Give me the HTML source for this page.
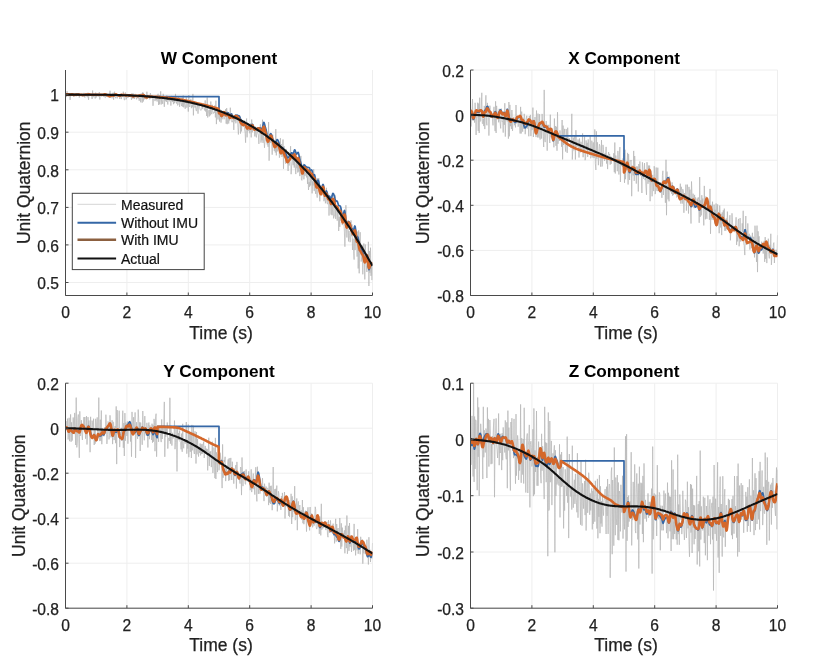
<!DOCTYPE html><html><head><meta charset="utf-8"><style>html,body{margin:0;padding:0;background:#fff;overflow:hidden}svg{display:block;filter:blur(0.35px)}</style></head><body>
<svg width="816" height="664" viewBox="0 0 816 664" font-family='"Liberation Sans", sans-serif'>
<rect width="816" height="664" fill="#fff"/>
<defs>
<clipPath id="cW"><rect x="65.5" y="70.0" width="307.0" height="225.5"/></clipPath>
<clipPath id="cX"><rect x="470.5" y="70.0" width="307.0" height="225.5"/></clipPath>
<clipPath id="cY"><rect x="65.5" y="383.2" width="307.0" height="225.00000000000006"/></clipPath>
<clipPath id="cZ"><rect x="470.5" y="383.2" width="307.0" height="225.00000000000006"/></clipPath>
</defs>
<path d="M126.9 70.0V295.5M188.3 70.0V295.5M249.7 70.0V295.5M311.1 70.0V295.5M372.5 70.0V295.5M65.5 282.5H372.5M65.5 244.9H372.5M65.5 207.4H372.5M65.5 169.8H372.5M65.5 132.2H372.5M65.5 94.6H372.5" stroke="#eeeeee" stroke-width="1" fill="none"/>
<g clip-path="url(#cW)">
<path d="M65.5 96.1L66.0 94.0L66.5 97.1L67.0 91.2L67.5 95.8L68.1 96.4L68.6 94.4L69.1 95.7L69.6 94.0L70.1 99.9L70.6 94.1L71.1 95.4L71.6 95.8L72.2 94.4L72.7 95.8L73.2 95.7L73.7 96.7L74.2 95.1L74.7 95.2L75.2 95.3L75.7 94.9L76.2 96.3L76.8 94.1L77.3 94.7L77.8 95.4L78.3 94.7L78.8 94.1L79.3 97.6L79.8 94.9L80.3 96.2L80.8 95.2L81.4 95.0L81.9 93.8L82.4 95.4L82.9 97.0L83.4 95.8L83.9 92.9L84.4 96.0L84.9 97.6L85.5 94.0L86.0 95.2L86.5 95.0L87.0 97.2L87.5 96.9L88.0 92.7L88.5 99.8L89.0 95.0L89.5 94.3L90.1 94.8L90.6 95.2L91.1 95.0L91.6 94.5L92.1 99.0L92.6 90.5L93.1 97.3L93.6 96.6L94.2 94.7L94.7 95.1L95.2 98.5L95.7 92.6L96.2 97.5L96.7 95.8L97.2 95.8L97.7 96.2L98.2 96.1L98.8 96.6L99.3 92.1L99.8 99.5L100.3 94.1L100.8 94.6L101.3 95.2L101.8 96.6L102.3 95.6L102.9 94.5L103.4 95.5L103.9 97.0L104.4 94.1L104.9 97.3L105.4 97.6L105.9 93.6L106.4 96.9L106.9 95.3L107.5 96.1L108.0 97.2L108.5 94.2L109.0 95.6L109.5 97.7L110.0 90.7L110.5 97.6L111.0 95.4L111.5 95.3L112.1 98.3L112.6 94.7L113.1 92.7L113.6 99.7L114.1 94.3L114.6 91.7L115.1 96.3L115.6 98.2L116.2 96.1L116.7 94.5L117.2 98.4L117.7 94.4L118.2 95.3L118.7 96.8L119.2 94.3L119.7 99.0L120.2 96.6L120.8 95.3L121.3 99.1L121.8 96.6L122.3 95.7L122.8 97.0L123.3 91.7L123.8 95.9L124.3 100.0L124.9 99.9L125.4 92.5L125.9 94.2L126.4 99.3L126.9 93.9L127.4 95.9L127.9 98.0L128.4 95.2L128.9 96.9L129.5 94.8L130.0 96.9L130.5 94.9L131.0 96.5L131.5 99.8L132.0 93.1L132.5 96.6L133.0 98.8L133.6 93.6L134.1 97.8L134.6 98.9L135.1 95.2L135.6 93.9L136.1 96.4L136.6 99.3L137.1 96.5L137.6 95.4L138.2 98.5L138.7 96.3L139.2 100.8L139.7 97.2L140.2 95.4L140.7 102.3L141.2 93.4L141.7 96.6L142.2 102.7L142.8 92.2L143.3 101.5L143.8 96.1L144.3 99.4L144.8 97.9L145.3 96.6L145.8 98.6L146.3 99.4L146.9 91.7L147.4 98.8L147.9 97.5L148.4 97.5L148.9 95.6L149.4 99.1L149.9 99.3L150.4 93.1L150.9 98.5L151.5 97.9L152.0 96.5L152.5 96.3L153.0 105.8L153.5 98.5L154.0 97.8L154.5 97.5L155.0 101.1L155.6 96.3L156.1 100.1L156.6 97.5L157.1 101.5L157.6 95.6L158.1 93.8L158.6 105.0L159.1 95.2L159.6 104.3L160.2 99.8L160.7 91.3L161.2 104.5L161.7 98.6L162.2 100.4L162.7 103.9L163.2 93.8L163.7 97.4L164.3 106.8L164.8 99.2L165.3 100.8L165.8 97.5L166.3 102.0L166.8 95.5L167.3 100.8L167.8 104.5L168.3 98.9L168.9 99.0L169.4 101.3L169.9 96.6L170.4 98.2L170.9 105.6L171.4 95.9L171.9 99.8L172.4 101.9L172.9 98.6L173.5 104.2L174.0 100.3L174.5 103.2L175.0 101.3L175.5 93.9L176.0 101.6L176.5 103.5L177.0 99.1L177.6 105.4L178.1 104.9L178.6 97.3L179.1 98.6L179.6 106.8L180.1 101.3L180.6 101.2L181.1 103.2L181.6 106.1L182.2 97.7L182.7 106.7L183.2 95.5L183.7 107.3L184.2 102.4L184.7 104.8L185.2 108.8L185.7 104.9L186.3 97.3L186.8 107.7L187.3 104.6L187.8 102.0L188.3 111.6L188.8 95.1L189.3 106.1L189.8 107.0L190.3 102.2L190.9 98.8L191.4 108.2L191.9 105.4L192.4 107.2L192.9 93.9L193.4 115.4L193.9 101.0L194.4 105.5L195.0 107.6L195.5 105.5L196.0 110.6L196.5 110.9L197.0 105.4L197.5 102.8L198.0 113.7L198.5 103.4L199.0 105.2L199.6 106.8L200.1 109.7L200.6 110.0L201.1 110.4L201.6 109.5L202.1 106.0L202.6 108.7L203.1 106.2L203.7 103.7L204.2 109.1L204.7 110.5L205.2 100.4L205.7 111.5L206.2 108.6L206.7 116.0L207.2 97.4L207.7 117.5L208.3 111.2L208.8 110.3L209.3 116.4L209.8 109.5L210.3 115.3L210.8 101.5L211.3 113.0L211.8 114.2L212.3 104.8L212.9 111.8L213.4 113.5L213.9 112.4L214.4 112.9L214.9 105.3L215.4 117.4L215.9 100.7L216.4 124.1L217.0 108.1L217.5 109.3L218.0 119.5L218.5 108.8L219.0 111.0L219.5 121.5L220.0 109.1L220.5 113.0L221.0 122.6L221.6 110.2L222.1 119.3L222.6 111.5L223.1 113.6L223.6 112.7L224.1 119.3L224.6 112.4L225.1 114.2L225.7 109.1L226.2 123.7L226.7 108.1L227.2 124.2L227.7 119.5L228.2 112.2L228.7 123.5L229.2 116.3L229.7 120.5L230.3 107.7L230.8 116.7L231.3 113.6L231.8 122.1L232.3 122.1L232.8 120.4L233.3 118.3L233.8 129.9L234.3 115.6L234.9 121.4L235.4 114.1L235.9 123.3L236.4 116.6L236.9 116.0L237.4 116.3L237.9 127.4L238.4 134.5L239.0 121.9L239.5 115.8L240.0 115.6L240.5 133.6L241.0 119.7L241.5 131.4L242.0 121.2L242.5 120.1L243.0 122.9L243.6 127.0L244.1 120.5L244.6 129.7L245.1 132.3L245.6 142.7L246.1 123.7L246.6 118.5L247.1 137.3L247.7 123.3L248.2 131.1L248.7 123.9L249.2 127.9L249.7 133.3L250.2 129.4L250.7 123.4L251.2 137.4L251.7 119.5L252.3 132.3L252.8 126.7L253.3 124.9L253.8 127.8L254.3 127.5L254.8 136.4L255.3 126.6L255.8 134.9L256.4 137.4L256.9 129.9L257.4 131.4L257.9 133.6L258.4 135.1L258.9 143.9L259.4 130.3L259.9 130.9L260.4 124.4L261.0 142.6L261.5 127.0L262.0 140.3L262.5 119.7L263.0 142.9L263.5 128.9L264.0 140.3L264.5 147.8L265.1 138.2L265.6 136.5L266.1 141.1L266.6 134.0L267.1 144.4L267.6 143.0L268.1 146.8L268.6 122.1L269.1 160.7L269.7 134.2L270.2 143.1L270.7 136.4L271.2 138.2L271.7 141.2L272.2 154.7L272.7 134.8L273.2 138.6L273.7 139.2L274.3 150.9L274.8 145.4L275.3 152.5L275.8 129.1L276.3 155.4L276.8 144.7L277.3 151.4L277.8 143.0L278.4 141.5L278.9 145.9L279.4 157.7L279.9 155.0L280.4 138.2L280.9 154.7L281.4 144.1L281.9 156.9L282.4 155.4L283.0 139.5L283.5 168.8L284.0 146.1L284.5 151.5L285.0 150.0L285.5 163.7L286.0 148.9L286.5 150.6L287.1 155.7L287.6 158.9L288.1 171.0L288.6 151.9L289.1 165.5L289.6 155.7L290.1 157.9L290.6 146.2L291.1 174.2L291.7 165.4L292.2 161.7L292.7 152.6L293.2 165.2L293.7 152.1L294.2 167.6L294.7 160.9L295.2 166.1L295.8 174.1L296.3 155.9L296.8 168.3L297.3 159.9L297.8 172.5L298.3 160.3L298.8 171.6L299.3 166.5L299.8 176.1L300.4 170.9L300.9 155.9L301.4 179.1L301.9 180.4L302.4 175.0L302.9 167.2L303.4 163.8L303.9 179.3L304.4 171.3L305.0 175.9L305.5 172.7L306.0 173.5L306.5 177.4L307.0 167.4L307.5 183.9L308.0 175.7L308.5 190.0L309.1 182.2L309.6 186.8L310.1 171.0L310.6 185.5L311.1 181.7L311.6 175.0L312.1 193.4L312.6 181.4L313.1 185.4L313.7 169.2L314.2 190.8L314.7 175.7L315.2 190.3L315.7 193.9L316.2 183.6L316.7 192.1L317.2 197.6L317.8 178.0L318.3 183.8L318.8 178.2L319.3 194.4L319.8 201.3L320.3 190.8L320.8 185.6L321.3 192.3L321.8 195.3L322.4 190.5L322.9 184.5L323.4 191.1L323.9 201.2L324.4 199.0L324.9 194.0L325.4 203.3L325.9 200.2L326.4 187.8L327.0 202.9L327.5 204.2L328.0 197.1L328.5 195.6L329.0 215.6L329.5 202.3L330.0 203.7L330.5 203.0L331.1 214.6L331.6 195.3L332.1 215.3L332.6 209.3L333.1 199.0L333.6 218.4L334.1 215.8L334.6 215.8L335.1 194.9L335.7 218.9L336.2 206.4L336.7 205.0L337.2 220.7L337.7 208.4L338.2 212.0L338.7 231.0L339.2 216.8L339.8 226.9L340.3 207.6L340.8 220.6L341.3 218.2L341.8 218.3L342.3 225.1L342.8 222.4L343.3 215.1L343.8 221.0L344.4 231.9L344.9 246.7L345.4 228.6L345.9 205.2L346.4 225.3L346.9 237.5L347.4 222.5L347.9 220.4L348.5 241.4L349.0 230.9L349.5 235.7L350.0 242.2L350.5 240.9L351.0 220.4L351.5 236.2L352.0 224.5L352.5 250.0L353.1 238.7L353.6 251.2L354.1 259.6L354.6 226.4L355.1 250.1L355.6 234.2L356.1 237.6L356.6 237.2L357.1 256.6L357.7 231.6L358.2 268.5L358.7 230.4L359.2 273.3L359.7 242.0L360.2 232.2L360.7 248.4L361.2 261.6L361.8 255.7L362.3 245.2L362.8 274.3L363.3 250.7L363.8 243.5L364.3 252.2L364.8 279.4L365.3 244.5L365.8 262.4L366.4 265.3L366.9 272.0L367.4 258.6L367.9 267.4L368.4 241.8L368.9 286.0L369.4 251.0L369.9 272.8L370.5 247.7L371.0 275.9L371.5 265.6L372.0 280.1L372.5 264.0" fill="none" stroke="#b4b4b4" stroke-width="0.7"/>
<path d="M65.5 94.4L65.9 94.4L66.3 94.4L66.7 94.4L67.0 94.3L67.4 94.3L67.8 94.3L68.2 94.3L68.6 94.4L69.0 94.4L69.3 94.4L69.7 94.5L70.1 94.5L70.5 94.5L70.9 94.4L71.3 94.4L71.6 94.3L72.0 94.3L72.4 94.3L72.8 94.4L73.2 94.6L73.6 94.8L73.9 94.8L74.3 94.9L74.7 94.9L75.1 94.8L75.5 94.7L75.9 94.7L76.2 94.6L76.6 94.6L77.0 94.6L77.4 94.6L77.8 94.6L78.2 94.6L78.5 94.6L78.9 94.7L79.3 94.7L79.7 94.8L80.1 94.8L80.5 94.9L80.8 94.9L81.2 94.9L81.6 95.0L82.0 95.0L82.4 95.0L82.8 95.0L83.2 95.0L83.5 95.0L83.9 95.0L84.3 94.9L84.7 94.8L85.1 94.7L85.5 94.6L85.8 94.5L86.2 94.5L86.6 94.5L87.0 94.5L87.4 94.5L87.8 94.5L88.1 94.4L88.5 94.3L88.9 94.3L89.3 94.3L89.7 94.3L90.1 94.5L90.4 94.6L90.8 94.7L91.2 94.7L91.6 94.7L92.0 94.7L92.4 94.6L92.7 94.6L93.1 94.7L93.5 94.7L93.9 94.7L94.3 94.7L94.7 94.6L95.0 94.6L95.4 94.7L95.8 94.7L96.2 94.7L96.6 94.7L97.0 94.7L97.4 94.7L97.7 94.7L98.1 94.7L98.5 94.7L98.9 94.8L99.3 94.8L99.7 94.8L100.0 94.9L100.4 94.9L100.8 94.9L101.2 94.9L101.6 94.9L102.0 94.9L102.3 94.9L102.7 94.9L103.1 94.8L103.5 94.8L103.9 94.7L104.3 94.5L104.6 94.4L105.0 94.4L105.4 94.4L105.8 94.6L106.2 94.7L106.6 94.9L106.9 95.0L107.3 95.1L107.7 95.2L108.1 95.3L108.5 95.5L108.9 95.8L109.2 96.0L109.6 96.0L110.0 96.0L110.4 95.8L110.8 95.6L111.2 95.4L111.5 95.3L111.9 95.2L112.3 95.3L112.7 95.4L113.1 95.5L113.5 95.5L113.9 95.5L114.2 95.3L114.6 95.1L115.0 94.8L115.4 94.5L115.8 94.4L116.2 94.5L116.5 94.7L116.9 95.0L117.3 95.2L117.7 95.2L118.1 95.3L118.5 95.4L118.8 95.6L119.2 95.7L119.6 95.8L120.0 95.7L120.4 95.4L120.8 95.1L121.1 94.8L121.5 94.7L121.9 94.8L122.3 94.9L122.7 95.0L123.1 95.0L123.4 94.9L123.8 94.8L124.2 94.9L124.6 95.0L125.0 95.1L125.4 95.2L125.7 95.3L126.1 95.3L126.5 95.3L126.9 95.2L127.3 95.1L127.7 95.1L128.1 95.1L128.4 95.2L128.8 95.3L129.2 95.4L129.6 95.4L130.0 95.3L130.4 95.1L130.7 95.0L131.1 95.0L131.5 95.1L131.9 95.4L132.3 95.7L132.7 96.1L133.0 96.3L133.4 96.3L133.8 96.3L134.2 96.2L134.6 96.1L135.0 96.0L135.3 95.9L135.7 95.9L136.1 95.9L136.5 96.0L136.9 96.1L137.3 96.3L137.6 96.4L138.0 96.3L138.4 96.1L138.8 95.8L139.2 95.7L139.6 95.6L139.9 95.5L140.3 95.5L140.7 95.5L141.1 95.5L141.5 95.4L141.9 95.2L142.2 94.9L142.6 94.6L143.0 94.5L143.4 94.5L143.8 94.8L144.2 95.3L144.6 95.7L144.9 96.2L145.3 96.5L145.7 96.7L146.1 97.0L146.5 97.1L146.9 97.2L147.2 97.0L147.6 96.7L148.0 96.5L148.4 96.5L148.8 96.5L149.2 96.7L149.5 96.9L149.9 96.6L219.0 96.6L219.0 113.5L219.0 113.5L219.4 112.7L219.8 112.2L220.2 112.7L220.5 113.9L220.9 115.2L221.3 116.1L221.7 116.4L222.1 116.1L222.5 115.5L222.8 114.6L223.2 113.6L223.6 112.7L224.0 112.3L224.4 112.5L224.8 113.1L225.1 114.0L225.5 114.7L225.9 114.9L226.3 114.5L226.7 113.7L227.1 113.0L227.4 112.6L227.8 112.6L228.2 112.9L228.6 113.4L229.0 114.1L229.4 114.9L229.7 115.5L230.1 115.6L230.5 115.1L230.9 114.3L231.3 113.9L231.7 114.1L232.0 114.9L232.4 115.9L232.8 116.6L233.2 117.0L233.6 117.1L234.0 117.1L234.3 116.9L234.7 116.5L235.1 116.0L235.5 115.6L235.9 115.4L236.3 115.3L236.7 115.2L237.0 115.1L237.4 115.2L237.8 115.4L238.2 115.6L238.6 115.7L239.0 115.8L239.3 116.2L239.7 116.9L240.1 117.9L240.5 118.9L240.9 119.8L241.3 120.4L241.6 121.0L242.0 121.7L242.4 122.5L242.8 123.2L243.2 123.5L243.6 123.4L243.9 123.4L244.3 123.7L244.7 124.2L245.1 124.8L245.5 125.3L245.9 125.9L246.2 126.7L246.6 127.6L247.0 128.3L247.4 128.4L247.8 127.9L248.2 127.1L248.5 126.5L248.9 126.4L249.3 126.8L249.7 127.5L250.1 128.0L250.5 128.0L250.9 127.4L251.2 126.4L251.6 125.3L252.0 124.5L252.4 124.3L252.8 124.8L253.2 125.8L253.5 127.1L253.9 128.2L254.3 128.8L254.7 128.9L255.1 128.6L255.5 128.3L255.8 128.3L256.2 128.7L256.6 129.0L257.0 129.0L257.4 128.7L257.8 128.2L258.1 127.9L258.5 127.8L258.9 127.8L259.3 127.9L259.7 127.9L260.1 127.9L260.4 128.1L260.8 128.5L261.2 129.2L261.6 129.8L262.0 129.8L262.4 128.8L262.7 126.9L263.1 124.6L263.5 122.9L263.9 122.4L264.3 123.2L264.7 124.8L265.1 126.4L265.4 127.6L265.8 128.8L266.2 130.3L266.6 132.4L267.0 134.7L267.4 136.7L267.7 137.9L268.1 138.2L268.5 137.8L268.9 137.0L269.3 136.1L269.7 135.3L270.0 134.6L270.4 134.0L270.8 133.7L271.2 134.1L271.6 135.1L272.0 136.5L272.3 137.9L272.7 139.1L273.1 140.3L273.5 141.6L273.9 142.8L274.3 143.8L274.6 144.3L275.0 144.1L275.4 143.4L275.8 142.4L276.2 141.4L276.6 140.5L276.9 139.8L277.3 139.6L277.7 139.9L278.1 140.6L278.5 141.6L278.9 142.7L279.2 144.0L279.6 145.8L280.0 147.9L280.4 149.8L280.8 151.0L281.2 151.1L281.6 150.2L281.9 148.9L282.3 147.9L282.7 147.8L283.1 148.3L283.5 149.2L283.9 150.1L284.2 150.9L284.6 151.7L285.0 152.4L285.4 152.9L285.8 153.5L286.2 154.3L286.5 155.6L286.9 157.0L287.3 157.8L287.7 157.9L288.1 157.6L288.5 157.2L288.8 157.0L289.2 156.8L289.6 156.5L290.0 156.1L290.4 155.4L290.8 154.4L291.1 153.4L291.5 152.8L291.9 152.9L292.3 153.6L292.7 154.3L293.1 154.5L293.4 153.7L293.8 152.2L294.2 150.7L294.6 149.8L295.0 150.1L295.4 151.2L295.8 152.6L296.1 153.6L296.5 154.0L296.9 153.7L297.3 153.2L297.7 152.6L298.1 152.4L298.4 153.0L298.8 154.4L299.2 156.5L299.6 158.6L300.0 160.3L300.4 161.4L300.7 162.4L301.1 163.9L301.5 166.0L301.9 168.2L302.3 169.7L302.7 169.9L303.0 168.8L303.4 167.1L303.8 165.6L304.2 164.9L304.6 165.0L305.0 165.5L305.3 166.0L305.7 166.4L306.1 166.6L306.5 166.9L306.9 167.1L307.3 167.2L307.6 167.3L308.0 167.4L308.4 167.5L308.8 167.6L309.2 167.8L309.6 168.3L309.9 169.3L310.3 170.2L310.7 170.6L311.1 170.3L311.5 169.9L311.9 170.3L312.3 171.6L312.6 173.4L313.0 174.7L313.4 175.1L313.8 174.8L314.2 174.6L314.6 174.9L314.9 176.1L315.3 177.9L315.7 180.0L316.1 181.8L316.5 182.8L316.9 182.8L317.2 181.8L317.6 180.6L318.0 180.1L318.4 180.6L318.8 182.0L319.2 184.0L319.5 186.1L319.9 187.9L320.3 189.4L320.7 190.6L321.1 191.0L321.5 190.3L321.8 188.7L322.2 186.7L322.6 185.0L323.0 184.4L323.4 185.2L323.8 187.2L324.1 189.8L324.5 192.2L324.9 193.5L325.3 193.3L325.7 192.2L326.1 191.1L326.4 190.9L326.8 191.7L327.2 193.1L327.6 194.5L328.0 195.5L328.4 196.0L328.8 196.2L329.1 196.1L329.5 196.2L329.9 196.6L330.3 197.6L330.7 198.9L331.1 199.7L331.4 199.3L331.8 197.6L332.2 195.4L332.6 193.9L333.0 193.4L333.4 193.7L333.7 194.4L334.1 195.4L334.5 196.7L334.9 198.5L335.3 200.1L335.7 201.1L336.0 201.3L336.4 201.1L336.8 200.9L337.2 201.3L337.6 202.2L338.0 203.4L338.3 204.6L338.7 205.4L339.1 205.7L339.5 205.8L339.9 205.9L340.3 206.2L340.6 206.9L341.0 208.3L341.4 210.6L341.8 213.7L342.2 216.6L342.6 218.1L343.0 217.8L343.3 215.8L343.7 213.1L344.1 211.1L344.5 210.5L344.9 211.8L345.3 214.7L345.6 218.4L346.0 222.0L346.4 224.5L346.8 225.6L347.2 225.2L347.6 224.0L347.9 222.6L348.3 221.7L348.7 221.5L349.1 221.9L349.5 222.5L349.9 223.2L350.2 224.3L350.6 225.5L351.0 226.8L351.4 227.7L351.8 228.2L352.2 228.8L352.5 229.6L352.9 230.3L353.3 230.4L353.7 229.6L354.1 228.1L354.5 226.7L354.8 226.0L355.2 226.7L355.6 229.1L356.0 232.4L356.4 235.5L356.8 237.2L357.1 237.4L357.5 237.0L357.9 237.3L358.3 238.6L358.7 240.9L359.1 243.3L359.5 245.2L359.8 246.2L360.2 246.9L360.6 247.4L361.0 248.3L361.4 249.4L361.8 250.4L362.1 251.3L362.5 251.9L362.9 252.8L363.3 254.2L363.7 256.3L364.1 258.6L364.4 260.6L364.8 261.8L365.2 262.0L365.6 261.1L366.0 259.3L366.4 257.4L366.7 256.2L367.1 256.6L367.5 258.9L367.9 262.5L368.3 266.3L368.7 268.9L369.0 269.7L369.4 268.9L369.8 267.4L370.2 266.0L370.6 265.1L371.0 264.6L371.3 264.3L371.7 264.0L372.1 263.6L372.5 263.4" fill="none" stroke="#3567a6" stroke-width="1.7" stroke-linejoin="round"/>
<path d="M65.5 94.4L65.9 94.4L66.3 94.4L66.7 94.4L67.0 94.4L67.4 94.4L67.8 94.4L68.2 94.4L68.6 94.4L69.0 94.4L69.3 94.5L69.7 94.5L70.1 94.5L70.5 94.5L70.9 94.5L71.3 94.4L71.6 94.3L72.0 94.3L72.4 94.3L72.8 94.5L73.2 94.6L73.6 94.8L73.9 94.9L74.3 94.9L74.7 94.9L75.1 94.8L75.5 94.8L75.9 94.7L76.2 94.6L76.6 94.6L77.0 94.6L77.4 94.5L77.8 94.5L78.2 94.5L78.5 94.6L78.9 94.6L79.3 94.6L79.7 94.6L80.1 94.7L80.5 94.8L80.8 94.8L81.2 94.8L81.6 94.9L82.0 94.9L82.4 94.9L82.8 95.0L83.2 95.0L83.5 95.0L83.9 95.0L84.3 94.9L84.7 94.8L85.1 94.7L85.5 94.6L85.8 94.5L86.2 94.5L86.6 94.5L87.0 94.5L87.4 94.5L87.8 94.5L88.1 94.4L88.5 94.3L88.9 94.3L89.3 94.3L89.7 94.4L90.1 94.5L90.4 94.7L90.8 94.7L91.2 94.8L91.6 94.7L92.0 94.7L92.4 94.7L92.7 94.7L93.1 94.7L93.5 94.7L93.9 94.7L94.3 94.7L94.7 94.7L95.0 94.7L95.4 94.7L95.8 94.8L96.2 94.8L96.6 94.8L97.0 94.8L97.4 94.8L97.7 94.8L98.1 94.7L98.5 94.7L98.9 94.7L99.3 94.8L99.7 94.8L100.0 94.8L100.4 94.8L100.8 94.8L101.2 94.8L101.6 94.8L102.0 94.8L102.3 94.8L102.7 94.7L103.1 94.7L103.5 94.7L103.9 94.6L104.3 94.4L104.6 94.3L105.0 94.3L105.4 94.4L105.8 94.6L106.2 94.7L106.6 94.9L106.9 95.0L107.3 95.2L107.7 95.3L108.1 95.5L108.5 95.7L108.9 96.0L109.2 96.2L109.6 96.3L110.0 96.2L110.4 96.0L110.8 95.8L111.2 95.6L111.5 95.5L111.9 95.4L112.3 95.4L112.7 95.5L113.1 95.6L113.5 95.6L113.9 95.5L114.2 95.3L114.6 95.1L115.0 94.7L115.4 94.5L115.8 94.4L116.2 94.4L116.5 94.7L116.9 94.9L117.3 95.1L117.7 95.2L118.1 95.3L118.5 95.4L118.8 95.6L119.2 95.8L119.6 95.8L120.0 95.7L120.4 95.5L120.8 95.1L121.1 94.8L121.5 94.7L121.9 94.8L122.3 94.9L122.7 95.0L123.1 95.0L123.4 94.9L123.8 94.8L124.2 94.9L124.6 95.0L125.0 95.2L125.4 95.3L125.7 95.4L126.1 95.4L126.5 95.4L126.9 95.3L127.3 95.3L127.7 95.2L128.1 95.3L128.4 95.4L128.8 95.5L129.2 95.6L129.6 95.6L130.0 95.5L130.4 95.3L130.7 95.2L131.1 95.2L131.5 95.3L131.9 95.6L132.3 95.9L132.7 96.2L133.0 96.4L133.4 96.4L133.8 96.3L134.2 96.2L134.6 96.0L135.0 95.9L135.3 95.8L135.7 95.8L136.1 95.7L136.5 95.7L136.9 95.8L137.3 96.0L137.6 96.1L138.0 96.1L138.4 95.9L138.8 95.7L139.2 95.6L139.6 95.5L139.9 95.6L140.3 95.6L140.7 95.7L141.1 95.7L141.5 95.7L141.9 95.5L142.2 95.3L142.6 95.0L143.0 94.9L143.4 95.0L143.8 95.3L144.2 95.7L144.6 96.2L144.9 96.7L145.3 97.0L145.7 97.2L146.1 97.4L146.5 97.5L146.9 97.5L147.2 97.3L147.6 97.0L148.0 96.7L148.4 96.6L148.8 96.6L149.2 96.7L149.5 96.8L149.9 96.6L150.3 96.6L150.7 96.6L151.1 96.6L151.5 96.6L151.8 96.7L152.2 96.7L152.6 96.7L153.0 96.7L153.4 96.7L153.8 96.7L154.1 96.8L154.5 96.8L154.9 96.8L155.3 96.8L155.7 96.8L156.1 96.9L156.4 96.9L156.8 96.9L157.2 96.9L157.6 97.0L158.0 97.0L158.4 97.0L158.8 97.0L159.1 97.1L159.5 97.1L159.9 97.1L160.3 97.2L160.7 97.2L161.1 97.2L161.4 97.2L161.8 97.3L162.2 97.3L162.6 97.3L163.0 97.4L163.4 97.4L163.7 97.5L164.1 97.5L164.5 97.5L164.9 97.6L165.3 97.6L165.7 97.6L166.0 97.7L166.4 97.7L166.8 97.7L167.2 97.8L167.6 97.8L168.0 97.9L168.3 97.9L168.7 97.9L169.1 98.0L169.5 98.0L169.9 98.1L170.3 98.1L170.6 98.2L171.0 98.2L171.4 98.2L171.8 98.3L172.2 98.3L172.6 98.4L172.9 98.4L173.3 98.4L173.7 98.5L174.1 98.5L174.5 98.6L174.9 98.6L175.3 98.7L175.6 98.7L176.0 98.8L176.4 98.8L176.8 98.9L177.2 99.0L177.6 99.0L177.9 99.1L178.3 99.1L178.7 99.2L179.1 99.3L179.5 99.3L179.9 99.4L180.2 99.5L180.6 99.5L181.0 99.6L181.4 99.7L181.8 99.7L182.2 99.8L182.5 99.9L182.9 100.0L183.3 100.0L183.7 100.1L184.1 100.2L184.5 100.3L184.8 100.3L185.2 100.4L185.6 100.5L186.0 100.6L186.4 100.7L186.8 100.8L187.1 100.8L187.5 100.9L187.9 101.0L188.3 101.1L188.7 101.2L189.1 101.3L189.5 101.3L189.8 101.4L190.2 101.5L190.6 101.6L191.0 101.7L191.4 101.8L191.8 101.9L192.1 102.0L192.5 102.1L192.9 102.2L193.3 102.2L193.7 102.3L194.1 102.4L194.4 102.5L194.8 102.6L195.2 102.7L195.6 102.8L196.0 102.9L196.4 103.0L196.7 103.1L197.1 103.2L197.5 103.3L197.9 103.4L198.3 103.5L198.7 103.6L199.0 103.7L199.4 103.8L199.8 103.8L200.2 103.9L200.6 104.0L201.0 104.1L201.3 104.2L201.7 104.3L202.1 104.4L202.5 104.5L202.9 104.6L203.3 104.7L203.7 104.8L204.0 104.9L204.4 105.0L204.8 105.1L205.2 105.2L205.6 105.3L206.0 105.4L206.3 105.4L206.7 105.5L207.1 105.6L207.5 105.7L207.9 105.8L208.3 105.9L208.6 106.0L209.0 106.1L209.4 106.2L209.8 106.3L210.2 106.4L210.6 106.5L210.9 106.6L211.3 106.7L211.7 106.9L212.1 107.0L212.5 107.1L212.9 107.2L213.2 107.3L213.6 107.4L214.0 107.5L214.4 107.6L214.8 107.7L215.2 107.8L215.5 107.9L215.9 108.0L216.3 108.1L216.7 108.3L217.1 108.4L217.5 108.5L217.8 108.6L218.2 108.7L218.6 108.8L219.0 113.2L219.4 112.4L219.8 111.9L220.2 112.4L220.5 113.6L220.9 114.9L221.3 115.8L221.7 116.0L222.1 115.7L222.5 115.1L222.8 114.2L223.2 113.2L223.6 112.4L224.0 112.0L224.4 112.3L224.8 113.1L225.1 114.1L225.5 115.0L225.9 115.4L226.3 115.2L226.7 114.7L227.1 114.2L227.4 114.1L227.8 114.3L228.2 114.8L228.6 115.5L229.0 116.4L229.4 117.3L229.7 117.9L230.1 117.9L230.5 117.4L230.9 116.5L231.3 115.9L231.7 116.0L232.0 116.5L232.4 117.2L232.8 117.7L233.2 117.9L233.6 117.8L234.0 117.7L234.3 117.4L234.7 116.9L235.1 116.4L235.5 116.1L235.9 116.1L236.3 116.1L236.7 116.2L237.0 116.4L237.4 116.8L237.8 117.3L238.2 117.7L238.6 118.1L239.0 118.6L239.3 119.2L239.7 120.1L240.1 121.1L240.5 122.2L240.9 123.0L241.3 123.5L241.6 123.8L242.0 124.3L242.4 124.7L242.8 125.0L243.2 124.8L243.6 124.4L243.9 124.0L244.3 124.0L244.7 124.3L245.1 124.7L245.5 125.2L245.9 125.7L246.2 126.5L246.6 127.5L247.0 128.3L247.4 128.5L247.8 128.2L248.2 127.5L248.5 127.0L248.9 126.9L249.3 127.5L249.7 128.2L250.1 128.7L250.5 128.7L250.9 128.2L251.2 127.2L251.6 126.2L252.0 125.5L252.4 125.4L252.8 125.9L253.2 126.9L253.5 128.1L253.9 129.2L254.3 129.7L254.7 129.7L255.1 129.3L255.5 128.9L255.8 128.8L256.2 129.0L256.6 129.2L257.0 129.2L257.4 128.9L257.8 128.5L258.1 128.3L258.5 128.3L258.9 128.5L259.3 128.8L259.7 129.1L260.1 129.5L260.4 130.0L260.8 130.7L261.2 131.8L261.6 132.7L262.0 133.0L262.4 132.3L262.7 130.6L263.1 128.6L263.5 127.0L263.9 126.7L264.3 127.6L264.7 129.3L265.1 131.0L265.4 132.2L265.8 133.4L266.2 134.9L266.6 136.8L267.0 138.9L267.4 140.7L267.7 141.7L268.1 141.7L268.5 141.0L268.9 140.0L269.3 138.8L269.7 137.8L270.0 136.8L270.4 136.0L270.8 135.6L271.2 135.8L271.6 136.8L272.0 138.2L272.3 139.6L272.7 140.9L273.1 142.3L273.5 143.8L273.9 145.2L274.3 146.4L274.6 147.1L275.0 147.2L275.4 146.8L275.8 146.1L276.2 145.3L276.6 144.6L276.9 144.0L277.3 143.7L277.7 144.0L278.1 144.6L278.5 145.4L278.9 146.3L279.2 147.3L279.6 148.9L280.0 150.7L280.4 152.4L280.8 153.3L281.2 153.3L281.6 152.4L281.9 151.1L282.3 150.2L282.7 150.2L283.1 151.0L283.5 152.2L283.9 153.3L284.2 154.3L284.6 155.4L285.0 156.3L285.4 157.0L285.8 157.7L286.2 158.7L286.5 160.0L286.9 161.3L287.3 162.1L287.7 162.1L288.1 161.6L288.5 161.1L288.8 160.6L289.2 160.3L289.6 159.8L290.0 159.2L290.4 158.3L290.8 157.2L291.1 156.1L291.5 155.5L291.9 155.6L292.3 156.4L292.7 157.4L293.1 157.8L293.4 157.3L293.8 156.1L294.2 154.9L294.6 154.4L295.0 155.0L295.4 156.3L295.8 157.9L296.1 159.1L296.5 159.6L296.9 159.5L297.3 159.0L297.7 158.4L298.1 158.2L298.4 158.7L298.8 160.0L299.2 162.0L299.6 164.0L300.0 165.5L300.4 166.5L300.7 167.3L301.1 168.5L301.5 170.3L301.9 172.3L302.3 173.5L302.7 173.4L303.0 172.0L303.4 170.0L303.8 168.3L304.2 167.4L304.6 167.4L305.0 167.8L305.3 168.3L305.7 168.7L306.1 169.0L306.5 169.3L306.9 169.6L307.3 169.9L307.6 170.1L308.0 170.3L308.4 170.6L308.8 170.8L309.2 171.1L309.6 171.8L309.9 172.8L310.3 173.8L310.7 174.2L311.1 174.0L311.5 173.6L311.9 174.0L312.3 175.3L312.6 177.0L313.0 178.3L313.4 178.6L313.8 178.3L314.2 178.1L314.6 178.5L314.9 179.8L315.3 181.8L315.7 184.1L316.1 186.2L316.5 187.4L316.9 187.5L317.2 186.7L317.6 185.7L318.0 185.2L318.4 185.7L318.8 187.0L319.2 188.8L319.5 190.6L319.9 192.2L320.3 193.4L320.7 194.3L321.1 194.3L321.5 193.4L321.8 191.5L322.2 189.3L322.6 187.5L323.0 186.8L323.4 187.5L323.8 189.5L324.1 192.1L324.5 194.5L324.9 195.8L325.3 195.7L325.7 194.6L326.1 193.7L326.4 193.6L326.8 194.5L327.2 196.0L327.6 197.5L328.0 198.6L328.4 199.3L328.8 199.5L329.1 199.6L329.5 199.8L329.9 200.3L330.3 201.5L330.7 203.0L331.1 204.0L331.4 203.8L331.8 202.3L332.2 200.4L332.6 199.0L333.0 198.8L333.4 199.3L333.7 200.1L334.1 201.2L334.5 202.6L334.9 204.4L335.3 206.0L335.7 207.0L336.0 207.1L336.4 206.9L336.8 206.6L337.2 206.9L337.6 207.7L338.0 208.8L338.3 209.9L338.7 210.6L339.1 210.8L339.5 210.8L339.9 210.7L340.3 210.9L340.6 211.5L341.0 212.8L341.4 215.1L341.8 218.1L342.2 220.9L342.6 222.5L343.0 222.1L343.3 220.0L343.7 217.3L344.1 215.2L344.5 214.5L344.9 215.5L345.3 218.1L345.6 221.5L346.0 224.8L346.4 226.9L346.8 227.6L347.2 227.0L347.6 225.4L347.9 223.8L348.3 222.7L348.7 222.5L349.1 222.9L349.5 223.6L349.9 224.5L350.2 225.8L350.6 227.4L351.0 229.0L351.4 230.2L351.8 231.1L352.2 232.0L352.5 233.1L352.9 234.0L353.3 234.3L353.7 233.6L354.1 232.3L354.5 230.9L354.8 230.3L355.2 231.0L355.6 233.4L356.0 236.8L356.4 239.9L356.8 241.6L357.1 241.8L357.5 241.4L357.9 241.7L358.3 243.0L358.7 245.2L359.1 247.6L359.5 249.3L359.8 250.3L360.2 250.8L360.6 251.3L361.0 252.0L361.4 252.9L361.8 253.7L362.1 254.3L362.5 254.6L362.9 255.2L363.3 256.3L363.7 258.0L364.1 259.9L364.4 261.6L364.8 262.4L365.2 262.2L365.6 261.0L366.0 258.9L366.4 256.7L366.7 255.3L367.1 255.4L367.5 257.5L367.9 261.0L368.3 264.7L368.7 267.3L369.0 268.1L369.4 267.3L369.8 265.9L370.2 264.7L370.6 263.9L371.0 263.6L371.3 263.6L371.7 263.5L372.1 263.4L372.5 263.5" fill="none" stroke="#d4672a" stroke-width="2.6" stroke-linejoin="round"/>
<path d="M65.5 94.6L66.5 94.6L67.5 94.6L68.6 94.6L69.6 94.6L70.6 94.6L71.6 94.6L72.7 94.6L73.7 94.6L74.7 94.6L75.7 94.6L76.8 94.6L77.8 94.6L78.8 94.6L79.8 94.7L80.8 94.7L81.9 94.7L82.9 94.7L83.9 94.7L84.9 94.7L86.0 94.7L87.0 94.7L88.0 94.7L89.0 94.7L90.1 94.7L91.1 94.7L92.1 94.7L93.1 94.7L94.2 94.7L95.2 94.7L96.2 94.7L97.2 94.7L98.2 94.7L99.3 94.7L100.3 94.7L101.3 94.7L102.3 94.8L103.4 94.8L104.4 94.8L105.4 94.8L106.4 94.8L107.5 94.8L108.5 94.8L109.5 94.8L110.5 94.9L111.5 94.9L112.6 94.9L113.6 94.9L114.6 94.9L115.6 95.0L116.7 95.0L117.7 95.0L118.7 95.0L119.7 95.1L120.8 95.1L121.8 95.1L122.8 95.2L123.8 95.2L124.9 95.2L125.9 95.3L126.9 95.3L127.9 95.3L128.9 95.4L130.0 95.4L131.0 95.5L132.0 95.5L133.0 95.6L134.1 95.6L135.1 95.7L136.1 95.7L137.1 95.8L138.2 95.8L139.2 95.9L140.2 95.9L141.2 96.0L142.2 96.1L143.3 96.1L144.3 96.2L145.3 96.3L146.3 96.4L147.4 96.4L148.4 96.5L149.4 96.6L150.4 96.7L151.5 96.8L152.5 96.9L153.5 97.0L154.5 97.0L155.6 97.1L156.6 97.2L157.6 97.4L158.6 97.5L159.6 97.6L160.7 97.7L161.7 97.8L162.7 97.9L163.7 98.0L164.8 98.2L165.8 98.3L166.8 98.4L167.8 98.6L168.9 98.7L169.9 98.8L170.9 99.0L171.9 99.1L172.9 99.3L174.0 99.4L175.0 99.6L176.0 99.8L177.0 99.9L178.1 100.1L179.1 100.3L180.1 100.5L181.1 100.7L182.2 100.8L183.2 101.0L184.2 101.2L185.2 101.4L186.3 101.6L187.3 101.8L188.3 102.1L189.3 102.3L190.3 102.5L191.4 102.7L192.4 103.0L193.4 103.2L194.4 103.4L195.5 103.7L196.5 103.9L197.5 104.2L198.5 104.5L199.6 104.7L200.6 105.0L201.6 105.3L202.6 105.6L203.7 105.8L204.7 106.1L205.7 106.4L206.7 106.7L207.7 107.0L208.8 107.4L209.8 107.7L210.8 108.0L211.8 108.3L212.9 108.7L213.9 109.0L214.9 109.4L215.9 109.7L217.0 110.1L218.0 110.5L219.0 110.8L220.0 111.2L221.0 111.6L222.1 112.0L223.1 112.4L224.1 112.8L225.1 113.2L226.2 113.6L227.2 114.0L228.2 114.5L229.2 114.9L230.3 115.4L231.3 115.8L232.3 116.3L233.3 116.7L234.3 117.2L235.4 117.7L236.4 118.2L237.4 118.7L238.4 119.2L239.5 119.7L240.5 120.2L241.5 120.7L242.5 121.2L243.6 121.8L244.6 122.3L245.6 122.9L246.6 123.4L247.7 124.0L248.7 124.6L249.7 125.2L250.7 125.7L251.7 126.3L252.8 126.9L253.8 127.6L254.8 128.2L255.8 128.8L256.9 129.5L257.9 130.1L258.9 130.8L259.9 131.4L261.0 132.1L262.0 132.8L263.0 133.5L264.0 134.2L265.1 134.9L266.1 135.6L267.1 136.3L268.1 137.1L269.1 137.8L270.2 138.5L271.2 139.3L272.2 140.1L273.2 140.9L274.3 141.6L275.3 142.4L276.3 143.2L277.3 144.1L278.4 144.9L279.4 145.7L280.4 146.6L281.4 147.4L282.4 148.3L283.5 149.2L284.5 150.0L285.5 150.9L286.5 151.8L287.6 152.7L288.6 153.7L289.6 154.6L290.6 155.5L291.7 156.5L292.7 157.4L293.7 158.4L294.7 159.4L295.8 160.4L296.8 161.4L297.8 162.4L298.8 163.4L299.8 164.4L300.9 165.5L301.9 166.5L302.9 167.6L303.9 168.7L305.0 169.8L306.0 170.8L307.0 172.0L308.0 173.1L309.1 174.2L310.1 175.3L311.1 176.5L312.1 177.6L313.1 178.8L314.2 180.0L315.2 181.2L316.2 182.4L317.2 183.6L318.3 184.8L319.3 186.0L320.3 187.3L321.3 188.5L322.4 189.8L323.4 191.1L324.4 192.4L325.4 193.7L326.4 195.0L327.5 196.3L328.5 197.7L329.5 199.0L330.5 200.4L331.6 201.7L332.6 203.1L333.6 204.5L334.6 205.9L335.7 207.3L336.7 208.7L337.7 210.2L338.7 211.6L339.8 213.1L340.8 214.6L341.8 216.0L342.8 217.5L343.8 219.0L344.9 220.6L345.9 222.1L346.9 223.6L347.9 225.2L349.0 226.7L350.0 228.3L351.0 229.9L352.0 231.5L353.1 233.1L354.1 234.7L355.1 236.4L356.1 238.0L357.1 239.7L358.2 241.3L359.2 243.0L360.2 244.7L361.2 246.4L362.3 248.1L363.3 249.9L364.3 251.6L365.3 253.4L366.4 255.1L367.4 256.9L368.4 258.7L369.4 260.5L370.5 262.3L371.5 264.1L372.5 265.9" fill="none" stroke="#111" stroke-width="2.1" stroke-linejoin="round"/>
</g>
<path d="M65.5 70.0V295.5H372.5" fill="none" stroke="#4a4a4a" stroke-width="1"/>
<path d="M65.5 295.5v-3M126.9 295.5v-3M188.3 295.5v-3M249.7 295.5v-3M311.1 295.5v-3M372.5 295.5v-3M65.5 282.5h3M65.5 244.9h3M65.5 207.4h3M65.5 169.8h3M65.5 132.2h3M65.5 94.6h3" stroke="#4a4a4a" stroke-width="1"/>
<g font-size="15.6" fill="#222" stroke="#222" stroke-width="0.25"><text x="65.5" y="317.5" text-anchor="middle">0</text><text x="126.9" y="317.5" text-anchor="middle">2</text><text x="188.3" y="317.5" text-anchor="middle">4</text><text x="249.7" y="317.5" text-anchor="middle">6</text><text x="311.1" y="317.5" text-anchor="middle">8</text><text x="372.5" y="317.5" text-anchor="middle">10</text><text x="59.0" y="289.2" text-anchor="end">0.5</text><text x="59.0" y="251.6" text-anchor="end">0.6</text><text x="59.0" y="214.1" text-anchor="end">0.7</text><text x="59.0" y="176.5" text-anchor="end">0.8</text><text x="59.0" y="138.9" text-anchor="end">0.9</text><text x="59.0" y="101.3" text-anchor="end">1</text></g>
<text x="219.0" y="64.0" text-anchor="middle" font-size="17.2" font-weight="bold" fill="#000">W Component</text>
<text x="221.0" y="338.5" text-anchor="middle" font-size="17.5" fill="#222" stroke="#222" stroke-width="0.25">Time (s)</text>
<text x="30" y="182.8" text-anchor="middle" font-size="17.5" fill="#222" stroke="#222" stroke-width="0.25" transform="rotate(-90 30 182.8)">Unit Quaternion</text>
<path d="M531.9 70.0V295.5M593.3 70.0V295.5M654.7 70.0V295.5M716.1 70.0V295.5M777.5 70.0V295.5M470.5 295.5H777.5M470.5 250.4H777.5M470.5 205.3H777.5M470.5 160.2H777.5M470.5 115.1H777.5M470.5 70.0H777.5" stroke="#eeeeee" stroke-width="1" fill="none"/>
<g clip-path="url(#cX)">
<path d="M470.5 101.1L471.0 126.5L471.5 113.6L472.0 120.0L472.5 99.0L473.1 120.8L473.6 111.7L474.1 115.0L474.6 122.6L475.1 102.8L475.6 112.5L476.1 135.0L476.6 110.5L477.2 117.2L477.7 102.7L478.2 130.9L478.7 103.5L479.2 133.0L479.7 97.7L480.2 121.5L480.7 120.9L481.2 109.9L481.8 92.8L482.3 123.5L482.8 123.7L483.3 118.8L483.8 126.1L484.3 105.9L484.8 129.1L485.3 111.1L485.9 95.3L486.4 121.0L486.9 125.3L487.4 102.9L487.9 115.3L488.4 105.9L488.9 135.6L489.4 118.1L489.9 105.7L490.5 118.0L491.0 113.3L491.5 114.3L492.0 112.8L492.5 119.6L493.0 125.4L493.5 112.1L494.0 106.8L494.5 119.1L495.1 131.1L495.6 101.3L496.1 133.0L496.6 105.9L497.1 114.4L497.6 115.4L498.1 112.1L498.6 122.3L499.2 108.8L499.7 119.8L500.2 123.5L500.7 128.4L501.2 108.5L501.7 113.5L502.2 121.6L502.7 120.8L503.2 132.6L503.8 113.2L504.3 124.8L504.8 103.2L505.3 136.6L505.8 118.8L506.3 120.3L506.8 110.2L507.3 121.4L507.9 110.3L508.4 138.7L508.9 102.0L509.4 136.3L509.9 104.9L510.4 126.2L510.9 118.9L511.4 128.9L511.9 110.0L512.5 130.9L513.0 122.6L513.5 117.5L514.0 116.8L514.5 125.2L515.0 123.1L515.5 127.4L516.0 105.0L516.5 123.4L517.1 122.0L517.6 117.2L518.1 126.7L518.6 125.2L519.1 118.3L519.6 119.7L520.1 133.5L520.6 106.9L521.2 133.5L521.7 111.6L522.2 127.0L522.7 131.7L523.2 117.8L523.7 129.0L524.2 113.8L524.7 117.1L525.2 134.2L525.8 126.6L526.3 118.5L526.8 115.7L527.3 128.7L527.8 119.5L528.3 125.5L528.8 136.3L529.3 116.0L529.9 126.7L530.4 114.9L530.9 136.1L531.4 122.3L531.9 129.9L532.4 129.7L532.9 107.6L533.4 137.0L533.9 127.7L534.5 125.7L535.0 116.9L535.5 129.9L536.0 137.1L536.5 110.5L537.0 128.4L537.5 137.4L538.0 113.6L538.6 136.8L539.1 137.7L539.6 114.2L540.1 139.5L540.6 129.1L541.1 122.4L541.6 138.6L542.1 113.9L542.6 124.7L543.2 136.6L543.7 147.0L544.2 89.9L544.7 139.4L545.2 142.1L545.7 132.8L546.2 121.1L546.7 131.3L547.2 150.7L547.8 124.8L548.3 129.7L548.8 124.9L549.3 137.9L549.8 143.0L550.3 114.7L550.8 137.3L551.3 135.1L551.9 128.3L552.4 136.9L552.9 142.0L553.4 134.0L553.9 147.3L554.4 118.5L554.9 137.3L555.4 126.0L555.9 145.8L556.5 126.8L557.0 150.7L557.5 112.2L558.0 143.8L558.5 138.6L559.0 135.1L559.5 141.0L560.0 130.4L560.6 139.4L561.1 134.9L561.6 146.8L562.1 120.0L562.6 159.4L563.1 125.6L563.6 144.9L564.1 135.3L564.6 128.9L565.2 146.6L565.7 151.6L566.2 129.1L566.7 135.2L567.2 152.9L567.7 127.7L568.2 140.0L568.7 138.9L569.3 138.1L569.8 140.4L570.3 141.3L570.8 147.4L571.3 143.2L571.8 113.8L572.3 159.5L572.8 149.8L573.3 137.6L573.9 150.4L574.4 139.3L574.9 135.2L575.4 159.5L575.9 130.2L576.4 143.2L576.9 147.0L577.4 143.2L578.0 139.5L578.5 141.5L579.0 157.5L579.5 138.5L580.0 144.1L580.5 152.3L581.0 141.8L581.5 149.5L582.0 151.2L582.6 133.4L583.1 157.2L583.6 145.1L584.1 152.5L584.6 136.6L585.1 160.2L585.6 157.9L586.1 140.4L586.6 150.0L587.2 142.8L587.7 156.9L588.2 139.4L588.7 148.7L589.2 152.9L589.7 155.0L590.2 136.1L590.7 158.3L591.3 156.4L591.8 140.7L592.3 146.1L592.8 157.5L593.3 142.4L593.8 158.0L594.3 157.9L594.8 129.4L595.3 163.4L595.9 170.0L596.4 131.3L596.9 158.8L597.4 142.3L597.9 151.9L598.4 165.2L598.9 154.1L599.4 144.2L600.0 146.4L600.5 166.6L601.0 161.0L601.5 140.1L602.0 166.6L602.5 164.6L603.0 144.9L603.5 149.5L604.0 156.8L604.6 161.0L605.1 153.5L605.6 156.5L606.1 146.9L606.6 163.6L607.1 156.3L607.6 169.1L608.1 156.6L608.6 152.1L609.2 155.2L609.7 154.0L610.2 164.7L610.7 156.2L611.2 163.9L611.7 160.2L612.2 158.2L612.7 158.2L613.3 160.5L613.8 153.2L614.3 172.2L614.8 142.5L615.3 173.5L615.8 155.5L616.3 160.8L616.8 163.9L617.3 171.2L617.9 150.9L618.4 159.4L618.9 174.5L619.4 154.9L619.9 147.1L620.4 182.0L620.9 161.0L621.4 166.0L622.0 164.9L622.5 167.0L623.0 158.4L623.5 168.0L624.0 153.0L624.5 182.8L625.0 149.7L625.5 179.2L626.0 169.5L626.6 170.2L627.1 161.7L627.6 152.9L628.1 184.5L628.6 154.1L629.1 172.0L629.6 180.0L630.1 160.5L630.7 161.2L631.2 160.0L631.7 196.2L632.2 165.5L632.7 166.7L633.2 175.5L633.7 150.9L634.2 180.9L634.7 156.0L635.3 174.4L635.8 166.9L636.3 183.6L636.8 166.3L637.3 171.0L637.8 166.6L638.3 191.5L638.8 164.0L639.4 171.0L639.9 161.4L640.4 175.9L640.9 173.7L641.4 173.4L641.9 193.0L642.4 162.3L642.9 168.6L643.4 178.8L644.0 177.0L644.5 163.1L645.0 180.1L645.5 177.7L646.0 187.8L646.5 194.8L647.0 162.2L647.5 172.8L648.0 183.8L648.6 165.5L649.1 182.1L649.6 165.6L650.1 201.2L650.6 174.6L651.1 170.6L651.6 181.6L652.1 196.3L652.7 174.9L653.2 178.9L653.7 191.1L654.2 166.2L654.7 173.4L655.2 194.1L655.7 189.0L656.2 167.5L656.7 190.4L657.3 191.1L657.8 167.7L658.3 190.7L658.8 189.1L659.3 183.3L659.8 185.4L660.3 182.9L660.8 182.1L661.4 184.5L661.9 197.8L662.4 175.5L662.9 170.8L663.4 195.0L663.9 184.6L664.4 180.3L664.9 180.2L665.4 202.8L666.0 159.8L666.5 215.2L667.0 171.6L667.5 185.9L668.0 199.4L668.5 185.2L669.0 201.3L669.5 176.7L670.0 186.4L670.6 192.1L671.1 186.8L671.6 193.8L672.1 182.4L672.6 195.7L673.1 186.4L673.6 194.9L674.1 186.3L674.7 193.1L675.2 192.4L675.7 194.6L676.2 188.8L676.7 197.4L677.2 196.8L677.7 193.2L678.2 192.1L678.7 189.0L679.3 197.3L679.8 200.5L680.3 183.7L680.8 203.6L681.3 186.8L681.8 190.4L682.3 203.6L682.8 189.2L683.4 191.6L683.9 212.8L684.4 193.0L684.9 195.9L685.4 199.1L685.9 184.6L686.4 210.6L686.9 195.4L687.4 184.6L688.0 195.9L688.5 213.5L689.0 186.9L689.5 201.9L690.0 189.6L690.5 203.3L691.0 223.5L691.5 181.5L692.1 197.4L692.6 207.1L693.1 193.7L693.6 202.5L694.1 208.2L694.6 194.9L695.1 206.9L695.6 197.4L696.1 204.1L696.7 206.2L697.2 198.5L697.7 201.5L698.2 197.3L698.7 199.3L699.2 222.8L699.7 177.1L700.2 216.9L700.8 200.3L701.3 215.4L701.8 195.2L702.3 208.0L702.8 198.5L703.3 212.5L703.8 225.4L704.3 185.9L704.8 211.0L705.4 219.3L705.9 196.5L706.4 212.0L706.9 218.8L707.4 201.6L707.9 209.6L708.4 210.9L708.9 201.5L709.4 219.8L710.0 188.9L710.5 233.8L711.0 204.7L711.5 209.8L712.0 219.7L712.5 201.7L713.0 219.4L713.5 219.9L714.1 204.6L714.6 219.2L715.1 209.7L715.6 223.9L716.1 203.5L716.6 219.5L717.1 220.3L717.6 204.4L718.1 217.8L718.7 212.4L719.2 233.2L719.7 205.5L720.2 216.3L720.7 227.5L721.2 214.1L721.7 235.1L722.2 212.4L722.8 223.8L723.3 210.4L723.8 225.3L724.3 208.6L724.8 230.8L725.3 219.2L725.8 230.7L726.3 218.5L726.8 229.0L727.4 211.6L727.9 224.1L728.4 222.9L728.9 227.3L729.4 227.7L729.9 215.2L730.4 240.3L730.9 228.9L731.5 231.0L732.0 213.3L732.5 222.8L733.0 226.2L733.5 228.0L734.0 226.6L734.5 227.2L735.0 232.2L735.5 228.2L736.1 217.3L736.6 244.9L737.1 230.3L737.6 241.4L738.1 220.8L738.6 218.9L739.1 246.3L739.6 241.0L740.1 218.1L740.7 241.6L741.2 235.7L741.7 237.9L742.2 223.3L742.7 231.8L743.2 210.8L743.7 243.6L744.2 245.6L744.8 255.1L745.3 232.0L745.8 216.0L746.3 245.0L746.8 237.6L747.3 243.0L747.8 223.4L748.3 238.3L748.8 235.3L749.4 233.8L749.9 249.6L750.4 235.8L750.9 235.8L751.4 248.1L751.9 240.3L752.4 232.8L752.9 244.6L753.5 236.9L754.0 237.1L754.5 257.4L755.0 225.7L755.5 247.3L756.0 240.2L756.5 261.9L757.0 225.6L757.5 272.1L758.1 231.3L758.6 242.5L759.1 236.3L759.6 252.9L760.1 247.5L760.6 247.3L761.1 248.0L761.6 241.7L762.1 243.3L762.7 245.3L763.2 253.6L763.7 247.5L764.2 240.9L764.7 261.9L765.2 237.1L765.7 258.9L766.2 241.4L766.8 263.1L767.3 245.1L767.8 251.2L768.3 238.7L768.8 254.5L769.3 258.4L769.8 244.8L770.3 250.5L770.8 233.8L771.4 264.9L771.9 255.5L772.4 254.4L772.9 251.9L773.4 244.0L773.9 242.6L774.4 263.0L774.9 252.4L775.5 255.7L776.0 249.7L776.5 255.9L777.0 256.2L777.5 235.2" fill="none" stroke="#b4b4b4" stroke-width="0.7"/>
<path d="M470.5 115.8L470.9 114.5L471.3 113.7L471.7 113.9L472.0 115.0L472.4 116.7L472.8 118.3L473.2 119.2L473.6 119.2L474.0 118.3L474.3 117.0L474.7 115.7L475.1 114.3L475.5 113.0L475.9 112.0L476.3 111.5L476.6 111.6L477.0 112.0L477.4 112.2L477.8 112.2L478.2 112.2L478.6 112.2L478.9 112.2L479.3 111.9L479.7 111.3L480.1 110.7L480.5 110.4L480.9 110.2L481.2 110.2L481.6 110.4L482.0 111.2L482.4 112.7L482.8 114.5L483.2 115.6L483.5 115.1L483.9 113.3L484.3 111.3L484.7 110.3L485.1 110.2L485.5 110.3L485.9 109.7L486.2 108.5L486.6 107.2L487.0 106.5L487.4 106.4L487.8 106.9L488.2 107.9L488.5 108.9L488.9 110.0L489.3 110.8L489.7 111.3L490.1 111.6L490.5 112.2L490.8 113.4L491.2 115.1L491.6 116.4L492.0 116.8L492.4 116.2L492.8 115.2L493.1 114.7L493.5 114.7L493.9 114.5L494.3 113.8L494.7 112.7L495.1 111.8L495.4 111.6L495.8 112.2L496.2 113.3L496.6 114.4L497.0 115.3L497.4 116.0L497.7 116.1L498.1 115.5L498.5 114.4L498.9 113.0L499.3 111.7L499.7 110.7L500.0 110.0L500.4 109.9L500.8 110.1L501.2 110.8L501.6 111.7L502.0 112.7L502.4 113.3L502.7 113.5L503.1 113.1L503.5 112.7L503.9 112.4L504.3 112.7L504.7 113.5L505.0 114.5L505.4 115.2L505.8 115.1L506.2 113.8L506.6 111.7L507.0 109.9L507.3 109.2L507.7 110.1L508.1 112.0L508.5 114.3L508.9 116.2L509.3 117.5L509.6 118.5L510.0 119.3L510.4 120.0L510.8 120.3L511.2 120.1L511.6 119.7L511.9 119.2L512.3 119.0L512.7 119.2L513.1 119.7L513.5 120.4L513.9 121.1L514.2 121.7L514.6 122.1L515.0 122.3L515.4 122.3L515.8 122.0L516.2 121.2L516.5 120.1L516.9 119.0L517.3 118.3L517.7 117.8L518.1 117.7L518.5 117.7L518.9 117.5L519.2 117.2L519.6 116.8L520.0 116.6L520.4 116.9L520.8 117.8L521.2 119.2L521.5 120.5L521.9 121.4L522.3 122.0L522.7 122.3L523.1 122.8L523.5 123.8L523.8 125.1L524.2 126.5L524.6 127.5L525.0 127.9L525.4 127.7L525.8 127.3L526.1 126.8L526.5 126.4L526.9 125.9L527.3 125.3L527.7 124.3L528.1 123.1L528.4 121.9L528.8 121.2L529.2 121.0L529.6 121.0L530.0 121.0L530.4 121.1L530.7 121.5L531.1 122.2L531.5 123.0L531.9 123.4L532.3 123.3L532.7 122.5L533.1 121.5L533.4 120.7L533.8 120.8L534.2 122.0L534.6 124.3L535.0 127.4L535.4 130.4L535.7 132.4L536.1 133.0L536.5 132.3L536.9 130.8L537.3 129.3L537.7 128.1L538.0 127.2L538.4 126.3L538.8 125.3L539.2 124.3L539.6 123.6L540.0 123.4L540.3 123.5L540.7 123.6L541.1 123.4L541.5 123.1L541.9 123.0L542.3 123.0L542.6 123.4L543.0 124.3L543.4 125.5L543.8 126.6L544.2 127.2L544.6 127.3L544.9 127.2L545.3 127.1L545.7 127.3L546.1 127.3L546.5 127.1L546.9 127.1L547.2 127.5L547.6 128.6L548.0 129.8L548.4 130.7L548.8 130.7L549.2 130.1L549.6 129.4L549.9 128.9L550.3 128.8L550.7 128.9L551.1 129.3L551.5 130.4L551.9 132.4L552.2 135.3L552.6 138.2L553.0 140.3L553.4 140.7L553.8 139.3L554.2 137.0L554.5 134.7L554.9 133.1L555.3 132.2L555.7 131.6L556.1 131.5L556.5 131.7L556.8 132.1L557.2 133.0L557.6 134.1L558.0 135.8L624.0 135.8L624.0 171.7L624.0 171.7L624.4 171.6L624.8 170.8L625.2 169.7L625.5 168.3L625.9 166.8L626.3 165.2L626.7 163.8L627.1 163.3L627.5 164.0L627.8 165.5L628.2 167.5L628.6 169.5L629.0 171.3L629.4 172.4L629.8 172.6L630.1 171.9L630.5 170.9L630.9 170.1L631.3 169.6L631.7 169.4L632.1 169.3L632.4 169.2L632.8 169.2L633.2 169.2L633.6 169.4L634.0 169.6L634.4 170.1L634.7 171.1L635.1 172.5L635.5 173.8L635.9 174.4L636.3 174.4L636.7 173.9L637.0 173.8L637.4 174.0L637.8 174.4L638.2 174.4L638.6 174.0L639.0 173.1L639.4 172.3L639.7 171.9L640.1 172.3L640.5 173.0L640.9 173.7L641.3 173.8L641.7 173.8L642.0 173.9L642.4 174.4L642.8 175.1L643.2 175.8L643.6 175.9L644.0 175.4L644.3 174.4L644.7 173.3L645.1 172.4L645.5 172.0L645.9 171.9L646.3 172.2L646.6 172.9L647.0 174.0L647.4 175.1L647.8 175.7L648.2 175.1L648.6 173.4L648.9 171.3L649.3 170.1L649.7 170.6L650.1 172.7L650.5 175.5L650.9 178.1L651.2 180.1L651.6 181.0L652.0 181.0L652.4 180.5L652.8 180.1L653.2 179.9L653.5 179.6L653.9 179.3L654.3 179.1L654.7 179.2L655.1 179.8L655.5 181.0L655.9 182.7L656.2 184.3L656.6 185.3L657.0 185.7L657.4 185.6L657.8 185.7L658.2 186.1L658.5 187.0L658.9 188.2L659.3 189.6L659.7 190.9L660.1 191.7L660.5 191.6L660.8 190.8L661.2 189.7L661.6 188.7L662.0 187.8L662.4 186.6L662.8 185.1L663.1 183.4L663.5 182.2L663.9 181.5L664.3 181.4L664.7 181.6L665.1 181.7L665.4 181.6L665.8 181.3L666.2 180.7L666.6 179.9L667.0 179.2L667.4 178.5L667.7 177.9L668.1 177.6L668.5 177.9L668.9 179.2L669.3 181.5L669.7 184.3L670.0 186.9L670.4 188.5L670.8 188.8L671.2 188.3L671.6 187.4L672.0 186.6L672.4 186.2L672.7 186.3L673.1 186.7L673.5 187.5L673.9 188.5L674.3 189.6L674.7 190.7L675.0 191.5L675.4 191.8L675.8 191.5L676.2 190.8L676.6 189.9L677.0 189.2L677.3 189.0L677.7 189.4L678.1 190.7L678.5 192.8L678.9 195.1L679.3 196.9L679.6 198.0L680.0 198.3L680.4 198.3L680.8 198.2L681.2 198.0L681.6 197.9L681.9 197.8L682.3 197.4L682.7 196.8L683.1 196.2L683.5 195.7L683.9 195.7L684.2 196.3L684.6 197.3L685.0 198.3L685.4 199.0L685.8 199.1L686.2 198.7L686.6 198.2L686.9 198.0L687.3 198.4L687.7 199.3L688.1 200.4L688.5 201.2L688.9 201.7L689.2 202.1L689.6 202.7L690.0 203.8L690.4 205.2L690.8 206.2L691.2 206.6L691.5 206.1L691.9 205.0L692.3 203.8L692.7 202.9L693.1 202.5L693.5 202.7L693.8 203.5L694.2 204.5L694.6 205.6L695.0 206.6L695.4 207.1L695.8 207.0L696.1 206.5L696.5 205.8L696.9 205.4L697.3 205.4L697.7 205.5L698.1 206.1L698.4 207.3L698.8 208.8L699.2 210.0L699.6 210.0L700.0 208.8L700.4 207.4L700.8 206.4L701.1 206.2L701.5 206.6L701.9 207.0L702.3 207.0L702.7 206.7L703.1 206.3L703.4 206.2L703.8 206.3L704.2 206.3L704.6 205.8L705.0 205.0L705.4 203.8L705.7 202.5L706.1 201.0L706.5 199.8L706.9 199.4L707.3 200.4L707.7 202.7L708.0 205.5L708.4 207.8L708.8 208.8L709.2 208.6L709.6 207.7L710.0 206.8L710.3 206.5L710.7 207.1L711.1 208.5L711.5 210.5L711.9 212.5L712.3 214.1L712.6 215.3L713.0 216.2L713.4 216.9L713.8 217.2L714.2 217.4L714.6 218.0L714.9 219.4L715.3 221.5L715.7 223.5L716.1 225.0L716.5 225.4L716.9 224.7L717.3 222.9L717.6 220.3L718.0 217.3L718.4 214.8L718.8 213.7L719.2 214.0L719.6 215.4L719.9 217.1L720.3 218.4L720.7 219.1L721.1 219.0L721.5 218.6L721.9 218.1L722.2 217.8L722.6 217.8L723.0 218.4L723.4 220.1L723.8 222.4L724.2 224.6L724.5 225.6L724.9 225.0L725.3 223.5L725.7 221.8L726.1 220.9L726.5 221.2L726.8 222.6L727.2 224.6L727.6 226.3L728.0 227.4L728.4 227.9L728.8 228.1L729.1 228.5L729.5 229.0L729.9 229.8L730.3 230.4L730.7 230.7L731.1 230.3L731.5 229.4L731.8 228.4L732.2 227.9L732.6 228.0L733.0 228.5L733.4 229.0L733.8 229.2L734.1 229.0L734.5 228.2L734.9 227.2L735.3 226.6L735.7 226.7L736.1 227.5L736.4 228.7L736.8 229.9L737.2 231.2L737.6 232.3L738.0 233.2L738.4 233.7L738.7 234.1L739.1 234.7L739.5 235.6L739.9 236.5L740.3 237.1L740.7 237.1L741.0 236.8L741.4 236.7L741.8 236.8L742.2 237.3L742.6 237.7L743.0 237.9L743.3 237.5L743.7 236.2L744.1 234.0L744.5 231.6L744.9 229.9L745.3 229.8L745.6 231.2L746.0 233.4L746.4 235.6L746.8 237.1L747.2 237.8L747.6 237.8L748.0 237.6L748.3 237.4L748.7 237.5L749.1 237.7L749.5 237.8L749.9 237.8L750.3 237.7L750.6 238.0L751.0 238.7L751.4 239.8L751.8 241.0L752.2 242.5L752.6 244.4L752.9 246.8L753.3 249.3L753.7 251.5L754.1 252.7L754.5 252.8L754.9 251.9L755.2 250.4L755.6 249.0L756.0 248.0L756.4 247.4L756.8 247.4L757.2 248.1L757.5 249.5L757.9 251.2L758.3 252.7L758.7 253.2L759.1 252.6L759.5 251.4L759.8 250.1L760.2 249.4L760.6 249.4L761.0 249.8L761.4 249.9L761.8 249.5L762.1 248.6L762.5 247.5L762.9 246.4L763.3 246.0L763.7 246.2L764.1 246.9L764.5 247.4L764.8 247.3L765.2 246.1L765.6 244.3L766.0 242.7L766.4 242.3L766.8 243.0L767.1 244.4L767.5 245.8L767.9 246.7L768.3 247.2L768.7 247.5L769.1 247.9L769.4 248.4L769.8 249.2L770.2 250.1L770.6 250.9L771.0 251.3L771.4 251.2L771.7 250.6L772.1 250.0L772.5 249.4L772.9 249.2L773.3 250.0L773.7 251.8L774.0 254.0L774.4 255.5L774.8 255.6L775.2 254.9L775.6 254.2L776.0 254.1L776.3 254.7L776.7 255.1L777.1 254.6L777.5 253.0" fill="none" stroke="#3567a6" stroke-width="1.7" stroke-linejoin="round"/>
<path d="M470.5 112.5L470.9 111.4L471.3 111.0L471.7 111.5L472.0 113.0L472.4 115.0L472.8 116.9L473.2 118.0L473.6 118.1L474.0 117.3L474.3 116.1L474.7 114.8L475.1 113.3L475.5 111.9L475.9 110.8L476.3 110.3L476.6 110.3L477.0 110.6L477.4 110.9L477.8 111.0L478.2 111.0L478.6 111.2L478.9 111.3L479.3 111.2L479.7 110.8L480.1 110.4L480.5 110.2L480.9 110.3L481.2 110.4L481.6 110.8L482.0 111.8L482.4 113.5L482.8 115.5L483.2 116.7L483.5 116.3L483.9 114.7L484.3 112.9L484.7 112.0L485.1 112.1L485.5 112.2L485.9 111.7L486.2 110.6L486.6 109.3L487.0 108.5L487.4 108.3L487.8 108.7L488.2 109.4L488.5 110.2L488.9 111.0L489.3 111.5L489.7 111.7L490.1 111.8L490.5 112.2L490.8 113.2L491.2 114.8L491.6 116.1L492.0 116.5L492.4 115.9L492.8 115.1L493.1 114.8L493.5 115.0L493.9 115.0L494.3 114.6L494.7 113.7L495.1 112.9L495.4 112.9L495.8 113.7L496.2 114.8L496.6 116.0L497.0 117.1L497.4 117.7L497.7 117.9L498.1 117.3L498.5 116.2L498.9 114.8L499.3 113.4L499.7 112.3L500.0 111.6L500.4 111.3L500.8 111.5L501.2 112.1L501.6 112.9L502.0 113.7L502.4 114.3L502.7 114.4L503.1 114.0L503.5 113.5L503.9 113.3L504.3 113.6L504.7 114.4L505.0 115.4L505.4 116.2L505.8 116.2L506.2 115.0L506.6 113.0L507.0 111.2L507.3 110.7L507.7 111.6L508.1 113.6L508.5 115.9L508.9 117.9L509.3 119.3L509.6 120.3L510.0 121.0L510.4 121.6L510.8 121.7L511.2 121.4L511.6 120.7L511.9 120.0L512.3 119.5L512.7 119.3L513.1 119.4L513.5 119.8L513.9 120.2L514.2 120.5L514.6 120.7L515.0 120.8L515.4 120.7L515.8 120.3L516.2 119.6L516.5 118.6L516.9 117.6L517.3 117.0L517.7 116.7L518.1 116.7L518.5 116.8L518.9 116.8L519.2 116.5L519.6 116.1L520.0 115.9L520.4 116.2L520.8 117.0L521.2 118.2L521.5 119.3L521.9 119.9L522.3 120.2L522.7 120.2L523.1 120.3L523.5 120.9L523.8 121.9L524.2 123.0L524.6 123.7L525.0 123.9L525.4 123.6L525.8 123.2L526.1 122.8L526.5 122.5L526.9 122.3L527.3 122.0L527.7 121.3L528.1 120.5L528.4 119.8L528.8 119.4L529.2 119.6L529.6 119.9L530.0 120.2L530.4 120.5L530.7 121.2L531.1 122.0L531.5 123.0L531.9 123.5L532.3 123.5L532.7 122.9L533.1 121.9L533.4 121.2L533.8 121.3L534.2 122.5L534.6 124.8L535.0 127.9L535.4 130.9L535.7 132.8L536.1 133.4L536.5 132.6L536.9 131.1L537.3 129.5L537.7 128.3L538.0 127.3L538.4 126.4L538.8 125.3L539.2 124.2L539.6 123.4L540.0 123.1L540.3 123.1L540.7 123.0L541.1 122.6L541.5 122.2L541.9 121.9L542.3 121.8L542.6 122.0L543.0 122.8L543.4 124.0L543.8 125.1L544.2 125.8L544.6 125.9L544.9 125.9L545.3 126.1L545.7 126.4L546.1 126.7L546.5 126.7L546.9 126.9L547.2 127.5L547.6 128.7L548.0 130.0L548.4 130.9L548.8 130.9L549.2 130.3L549.6 129.6L549.9 129.0L550.3 128.8L550.7 128.8L551.1 129.0L551.5 130.0L551.9 131.9L552.2 134.7L552.6 137.5L553.0 139.5L553.4 139.8L553.8 138.5L554.2 136.2L554.5 134.0L554.9 132.5L555.3 131.7L555.7 131.3L556.1 131.3L556.5 131.7L556.8 132.3L557.2 133.3L557.6 134.6L558.0 136.5L558.4 136.9L558.8 137.2L559.1 137.5L559.5 137.9L559.9 138.2L560.3 138.5L560.7 138.8L561.1 139.1L561.4 139.5L561.8 139.8L562.2 140.1L562.6 140.4L563.0 140.7L563.4 141.0L563.8 141.3L564.1 141.6L564.5 141.9L564.9 142.2L565.3 142.5L565.7 142.8L566.1 143.0L566.4 143.3L566.8 143.6L567.2 143.9L567.6 144.1L568.0 144.4L568.4 144.6L568.7 144.9L569.1 145.1L569.5 145.4L569.9 145.6L570.3 145.8L570.7 146.0L571.0 146.2L571.4 146.5L571.8 146.7L572.2 146.9L572.6 147.0L573.0 147.2L573.3 147.4L573.7 147.6L574.1 147.8L574.5 147.9L574.9 148.1L575.3 148.3L575.6 148.4L576.0 148.6L576.4 148.8L576.8 148.9L577.2 149.1L577.6 149.2L578.0 149.4L578.3 149.5L578.7 149.7L579.1 149.8L579.5 149.9L579.9 150.1L580.3 150.2L580.6 150.4L581.0 150.5L581.4 150.6L581.8 150.8L582.2 150.9L582.6 151.0L582.9 151.1L583.3 151.3L583.7 151.4L584.1 151.5L584.5 151.6L584.9 151.8L585.2 151.9L585.6 152.0L586.0 152.1L586.4 152.2L586.8 152.4L587.2 152.5L587.5 152.6L587.9 152.7L588.3 152.8L588.7 152.9L589.1 153.1L589.5 153.2L589.8 153.3L590.2 153.4L590.6 153.5L591.0 153.6L591.4 153.8L591.8 153.9L592.1 154.0L592.5 154.1L592.9 154.2L593.3 154.3L593.7 154.5L594.1 154.6L594.5 154.7L594.8 154.8L595.2 154.9L595.6 155.0L596.0 155.2L596.4 155.3L596.8 155.4L597.1 155.5L597.5 155.6L597.9 155.7L598.3 155.8L598.7 156.0L599.1 156.1L599.4 156.2L599.8 156.3L600.2 156.4L600.6 156.5L601.0 156.6L601.4 156.7L601.7 156.8L602.1 157.0L602.5 157.1L602.9 157.2L603.3 157.3L603.7 157.4L604.0 157.5L604.4 157.6L604.8 157.7L605.2 157.8L605.6 157.9L606.0 158.0L606.3 158.1L606.7 158.2L607.1 158.3L607.5 158.4L607.9 158.5L608.3 158.6L608.6 158.7L609.0 158.8L609.4 158.9L609.8 159.0L610.2 159.1L610.6 159.2L611.0 159.3L611.3 159.4L611.7 159.5L612.1 159.5L612.5 159.6L612.9 159.7L613.3 159.8L613.6 159.9L614.0 160.0L614.4 160.1L614.8 160.2L615.2 160.2L615.6 160.3L615.9 160.4L616.3 160.5L616.7 160.6L617.1 160.7L617.5 160.7L617.9 160.8L618.2 160.9L618.6 161.0L619.0 161.0L619.4 161.1L619.8 161.2L620.2 161.3L620.5 161.4L620.9 161.4L621.3 161.5L621.7 161.6L622.1 161.7L622.5 161.7L622.8 161.8L623.2 161.9L623.6 161.9L624.0 172.5L624.4 172.1L624.8 171.1L625.2 169.8L625.5 168.3L625.9 166.5L626.3 164.7L626.7 163.2L627.1 162.6L627.5 163.1L627.8 164.5L628.2 166.3L628.6 168.2L629.0 169.9L629.4 171.0L629.8 171.1L630.1 170.4L630.5 169.3L630.9 168.5L631.3 168.0L631.7 167.8L632.1 167.6L632.4 167.5L632.8 167.5L633.2 167.6L633.6 167.7L634.0 167.9L634.4 168.4L634.7 169.3L635.1 170.6L635.5 171.9L635.9 172.6L636.3 172.5L636.7 172.1L637.0 171.9L637.4 172.2L637.8 172.6L638.2 172.8L638.6 172.4L639.0 171.7L639.4 170.8L639.7 170.5L640.1 171.0L640.5 171.8L640.9 172.4L641.3 172.6L641.7 172.5L642.0 172.6L642.4 173.1L642.8 173.8L643.2 174.4L643.6 174.5L644.0 174.0L644.3 173.1L644.7 172.0L645.1 171.2L645.5 170.9L645.9 170.9L646.3 171.3L646.6 172.1L647.0 173.3L647.4 174.5L647.8 175.2L648.2 174.7L648.6 173.0L648.9 171.0L649.3 169.8L649.7 170.3L650.1 172.3L650.5 175.1L650.9 177.7L651.2 179.6L651.6 180.4L652.0 180.4L652.4 179.9L652.8 179.5L653.2 179.3L653.5 179.1L653.9 178.9L654.3 178.7L654.7 179.0L655.1 179.7L655.5 181.1L655.9 182.8L656.2 184.5L656.6 185.7L657.0 186.0L657.4 186.0L657.8 185.9L658.2 186.2L658.5 186.9L658.9 188.0L659.3 189.1L659.7 190.2L660.1 190.8L660.5 190.5L660.8 189.6L661.2 188.5L661.6 187.5L662.0 186.6L662.4 185.6L662.8 184.3L663.1 182.9L663.5 182.0L663.9 181.6L664.3 181.9L664.7 182.4L665.1 182.8L665.4 183.0L665.8 182.9L666.2 182.5L666.6 181.9L667.0 181.3L667.4 180.6L667.7 179.9L668.1 179.5L668.5 179.7L668.9 180.8L669.3 182.9L669.7 185.5L670.0 187.8L670.4 189.2L670.8 189.5L671.2 188.8L671.6 187.9L672.0 187.1L672.4 186.8L672.7 186.9L673.1 187.4L673.5 188.3L673.9 189.3L674.3 190.5L674.7 191.6L675.0 192.4L675.4 192.7L675.8 192.4L676.2 191.6L676.6 190.7L677.0 190.0L677.3 189.7L677.7 190.1L678.1 191.4L678.5 193.5L678.9 195.8L679.3 197.6L679.6 198.7L680.0 199.1L680.4 199.0L680.8 198.9L681.2 198.7L681.6 198.5L681.9 198.3L682.3 197.8L682.7 197.1L683.1 196.3L683.5 195.8L683.9 195.7L684.2 196.2L684.6 197.2L685.0 198.2L685.4 199.0L685.8 199.2L686.2 198.9L686.6 198.5L686.9 198.4L687.3 198.8L687.7 199.8L688.1 200.8L688.5 201.6L688.9 202.0L689.2 202.2L689.6 202.6L690.0 203.4L690.4 204.4L690.8 205.2L691.2 205.2L691.5 204.3L691.9 202.9L692.3 201.4L692.7 200.2L693.1 199.6L693.5 199.7L693.8 200.3L694.2 201.3L694.6 202.4L695.0 203.5L695.4 204.1L695.8 204.2L696.1 203.8L696.5 203.3L696.9 203.1L697.3 203.2L697.7 203.6L698.1 204.4L698.4 205.7L698.8 207.5L699.2 208.8L699.6 209.0L700.0 208.0L700.4 206.6L700.8 205.8L701.1 205.7L701.5 206.1L701.9 206.6L702.3 206.6L702.7 206.3L703.1 205.9L703.4 205.8L703.8 205.9L704.2 205.8L704.6 205.2L705.0 204.3L705.4 203.0L705.7 201.6L706.1 200.1L706.5 198.8L706.9 198.4L707.3 199.4L707.7 201.7L708.0 204.6L708.4 207.1L708.8 208.3L709.2 208.3L709.6 207.6L710.0 206.9L710.3 206.7L710.7 207.4L711.1 208.9L711.5 210.9L711.9 212.8L712.3 214.3L712.6 215.4L713.0 216.2L713.4 216.8L713.8 217.0L714.2 217.2L714.6 217.7L714.9 219.0L715.3 221.0L715.7 223.1L716.1 224.5L716.5 225.0L716.9 224.4L717.3 222.7L717.6 220.1L718.0 217.2L718.4 214.9L718.8 213.9L719.2 214.3L719.6 215.7L719.9 217.4L720.3 218.8L720.7 219.4L721.1 219.3L721.5 218.7L721.9 218.2L722.2 217.8L722.6 217.8L723.0 218.3L723.4 219.9L723.8 222.3L724.2 224.5L724.5 225.5L724.9 225.1L725.3 223.6L725.7 222.1L726.1 221.3L726.5 221.7L726.8 223.3L727.2 225.4L727.6 227.2L728.0 228.4L728.4 229.0L728.8 229.3L729.1 229.8L729.5 230.5L729.9 231.3L730.3 232.0L730.7 232.2L731.1 231.8L731.5 230.9L731.8 229.9L732.2 229.3L732.6 229.3L733.0 229.7L733.4 230.1L733.8 230.2L734.1 229.8L734.5 228.9L734.9 227.8L735.3 227.1L735.7 227.0L736.1 227.7L736.4 228.8L736.8 229.9L737.2 231.0L737.6 232.1L738.0 233.0L738.4 233.5L738.7 234.0L739.1 234.6L739.5 235.7L739.9 236.9L740.3 237.7L740.7 237.9L741.0 237.9L741.4 237.9L741.8 238.3L742.2 239.0L742.6 239.6L743.0 240.0L743.3 239.9L743.7 238.8L744.1 237.0L744.5 234.9L744.9 233.5L745.3 233.7L745.6 235.4L746.0 237.9L746.4 240.3L746.8 242.1L747.2 242.9L747.6 243.0L748.0 242.7L748.3 242.4L748.7 242.3L749.1 242.3L749.5 242.1L749.9 241.6L750.3 241.1L750.6 240.9L751.0 241.1L751.4 241.7L751.8 242.4L752.2 243.5L752.6 244.9L752.9 246.9L753.3 249.1L753.7 251.0L754.1 252.0L754.5 251.9L754.9 250.8L755.2 249.2L755.6 247.7L756.0 246.5L756.4 245.8L756.8 245.7L757.2 246.3L757.5 247.7L757.9 249.3L758.3 250.6L758.7 251.1L759.1 250.4L759.5 249.1L759.8 247.8L760.2 247.0L760.6 247.0L761.0 247.3L761.4 247.4L761.8 247.0L762.1 246.2L762.5 245.1L762.9 244.2L763.3 243.8L763.7 244.2L764.1 245.1L764.5 245.9L764.8 245.9L765.2 244.9L765.6 243.3L766.0 242.0L766.4 241.7L766.8 242.6L767.1 244.2L767.5 245.7L767.9 246.8L768.3 247.4L768.7 247.8L769.1 248.3L769.4 249.0L769.8 249.9L770.2 251.0L770.6 251.9L771.0 252.4L771.4 252.4L771.7 251.9L772.1 251.2L772.5 250.5L772.9 250.3L773.3 250.9L773.7 252.6L774.0 254.6L774.4 256.0L774.8 256.1L775.2 255.3L775.6 254.6L776.0 254.7L776.3 255.4L776.7 256.0L777.1 255.7L777.5 254.4" fill="none" stroke="#d4672a" stroke-width="2.6" stroke-linejoin="round"/>
<path d="M470.5 114.9L471.5 114.9L472.5 114.9L473.6 114.9L474.6 115.0L475.6 115.0L476.6 115.0L477.7 115.0L478.7 115.1L479.7 115.1L480.7 115.2L481.8 115.2L482.8 115.3L483.8 115.3L484.8 115.4L485.9 115.5L486.9 115.6L487.9 115.7L488.9 115.8L489.9 115.9L491.0 116.1L492.0 116.2L493.0 116.4L494.0 116.5L495.1 116.7L496.1 116.8L497.1 117.0L498.1 117.2L499.2 117.4L500.2 117.5L501.2 117.7L502.2 117.9L503.2 118.1L504.3 118.3L505.3 118.5L506.3 118.7L507.3 118.9L508.4 119.1L509.4 119.4L510.4 119.6L511.4 119.8L512.5 120.0L513.5 120.2L514.5 120.5L515.5 120.7L516.5 121.0L517.6 121.2L518.6 121.5L519.6 121.7L520.6 122.0L521.7 122.3L522.7 122.6L523.7 122.9L524.7 123.2L525.8 123.5L526.8 123.8L527.8 124.1L528.8 124.4L529.9 124.8L530.9 125.1L531.9 125.5L532.9 125.8L533.9 126.2L535.0 126.6L536.0 127.0L537.0 127.4L538.0 127.8L539.1 128.2L540.1 128.6L541.1 129.0L542.1 129.4L543.2 129.9L544.2 130.3L545.2 130.7L546.2 131.2L547.2 131.6L548.3 132.0L549.3 132.5L550.3 132.9L551.3 133.3L552.4 133.8L553.4 134.2L554.4 134.6L555.4 135.1L556.5 135.5L557.5 135.9L558.5 136.4L559.5 136.8L560.6 137.2L561.6 137.6L562.6 138.0L563.6 138.5L564.6 138.9L565.7 139.3L566.7 139.7L567.7 140.2L568.7 140.6L569.8 141.0L570.8 141.4L571.8 141.8L572.8 142.3L573.9 142.7L574.9 143.1L575.9 143.5L576.9 144.0L578.0 144.4L579.0 144.8L580.0 145.3L581.0 145.7L582.0 146.1L583.1 146.5L584.1 147.0L585.1 147.4L586.1 147.8L587.2 148.3L588.2 148.7L589.2 149.1L590.2 149.6L591.3 150.0L592.3 150.4L593.3 150.9L594.3 151.3L595.3 151.7L596.4 152.2L597.4 152.6L598.4 153.0L599.4 153.4L600.5 153.9L601.5 154.3L602.5 154.8L603.5 155.2L604.6 155.6L605.6 156.1L606.6 156.5L607.6 157.0L608.6 157.4L609.7 157.9L610.7 158.3L611.7 158.8L612.7 159.3L613.8 159.7L614.8 160.2L615.8 160.7L616.8 161.2L617.9 161.7L618.9 162.2L619.9 162.7L620.9 163.2L622.0 163.7L623.0 164.2L624.0 164.7L625.0 165.2L626.0 165.7L627.1 166.3L628.1 166.8L629.1 167.3L630.1 167.9L631.2 168.4L632.2 168.9L633.2 169.5L634.2 170.0L635.3 170.6L636.3 171.1L637.3 171.7L638.3 172.2L639.4 172.8L640.4 173.3L641.4 173.9L642.4 174.4L643.4 175.0L644.5 175.5L645.5 176.1L646.5 176.7L647.5 177.2L648.6 177.8L649.6 178.3L650.6 178.9L651.6 179.4L652.7 180.0L653.7 180.5L654.7 181.1L655.7 181.6L656.7 182.2L657.8 182.7L658.8 183.3L659.8 183.8L660.8 184.4L661.9 184.9L662.9 185.4L663.9 186.0L664.9 186.5L666.0 187.0L667.0 187.6L668.0 188.1L669.0 188.6L670.0 189.1L671.1 189.7L672.1 190.2L673.1 190.7L674.1 191.2L675.2 191.7L676.2 192.3L677.2 192.8L678.2 193.3L679.3 193.8L680.3 194.3L681.3 194.8L682.3 195.4L683.4 195.9L684.4 196.4L685.4 196.9L686.4 197.4L687.4 198.0L688.5 198.5L689.5 199.1L690.5 199.6L691.5 200.1L692.6 200.7L693.6 201.3L694.6 201.8L695.6 202.4L696.7 203.0L697.7 203.6L698.7 204.1L699.7 204.7L700.8 205.3L701.8 206.0L702.8 206.6L703.8 207.2L704.8 207.8L705.9 208.5L706.9 209.1L707.9 209.7L708.9 210.4L710.0 211.1L711.0 211.7L712.0 212.4L713.0 213.1L714.1 213.8L715.1 214.5L716.1 215.2L717.1 215.9L718.1 216.6L719.2 217.4L720.2 218.1L721.2 218.9L722.2 219.6L723.3 220.3L724.3 221.1L725.3 221.8L726.3 222.6L727.4 223.4L728.4 224.1L729.4 224.9L730.4 225.6L731.5 226.4L732.5 227.1L733.5 227.9L734.5 228.6L735.5 229.3L736.6 230.1L737.6 230.8L738.6 231.5L739.6 232.2L740.7 232.9L741.7 233.7L742.7 234.3L743.7 235.0L744.8 235.7L745.8 236.4L746.8 237.1L747.8 237.7L748.8 238.4L749.9 239.0L750.9 239.7L751.9 240.3L752.9 240.9L754.0 241.6L755.0 242.2L756.0 242.8L757.0 243.4L758.1 244.0L759.1 244.6L760.1 245.2L761.1 245.7L762.1 246.3L763.2 246.9L764.2 247.4L765.2 248.0L766.2 248.5L767.3 249.1L768.3 249.6L769.3 250.1L770.3 250.7L771.4 251.2L772.4 251.7L773.4 252.2L774.4 252.8L775.5 253.3L776.5 253.8L777.5 254.3" fill="none" stroke="#111" stroke-width="2.1" stroke-linejoin="round"/>
</g>
<path d="M470.5 70.0V295.5H777.5" fill="none" stroke="#4a4a4a" stroke-width="1"/>
<path d="M470.5 295.5v-3M531.9 295.5v-3M593.3 295.5v-3M654.7 295.5v-3M716.1 295.5v-3M777.5 295.5v-3M470.5 295.5h3M470.5 250.4h3M470.5 205.3h3M470.5 160.2h3M470.5 115.1h3M470.5 70.0h3" stroke="#4a4a4a" stroke-width="1"/>
<g font-size="15.6" fill="#222" stroke="#222" stroke-width="0.25"><text x="470.5" y="317.5" text-anchor="middle">0</text><text x="531.9" y="317.5" text-anchor="middle">2</text><text x="593.3" y="317.5" text-anchor="middle">4</text><text x="654.7" y="317.5" text-anchor="middle">6</text><text x="716.1" y="317.5" text-anchor="middle">8</text><text x="777.5" y="317.5" text-anchor="middle">10</text><text x="464.0" y="302.2" text-anchor="end">-0.8</text><text x="464.0" y="257.1" text-anchor="end">-0.6</text><text x="464.0" y="212.0" text-anchor="end">-0.4</text><text x="464.0" y="166.9" text-anchor="end">-0.2</text><text x="464.0" y="121.8" text-anchor="end">0</text><text x="464.0" y="76.7" text-anchor="end">0.2</text></g>
<text x="624.0" y="64.0" text-anchor="middle" font-size="17.2" font-weight="bold" fill="#000">X Component</text>
<text x="626.0" y="338.5" text-anchor="middle" font-size="17.5" fill="#222" stroke="#222" stroke-width="0.25">Time (s)</text>
<text x="428.7" y="182.8" text-anchor="middle" font-size="17.5" fill="#222" stroke="#222" stroke-width="0.25" transform="rotate(-90 428.7 182.8)">Unit Quaternion</text>
<path d="M126.9 383.2V608.2M188.3 383.2V608.2M249.7 383.2V608.2M311.1 383.2V608.2M372.5 383.2V608.2M65.5 608.2H372.5M65.5 563.2H372.5M65.5 518.2H372.5M65.5 473.2H372.5M65.5 428.2H372.5M65.5 383.2H372.5" stroke="#eeeeee" stroke-width="1" fill="none"/>
<g clip-path="url(#cY)">
<path d="M65.5 433.0L66.0 421.1L66.5 429.5L67.0 429.8L67.5 418.6L68.1 439.5L68.6 432.9L69.1 417.8L69.6 441.2L70.1 428.9L70.6 414.4L71.1 441.8L71.6 422.3L72.2 440.6L72.7 430.4L73.2 417.5L73.7 426.1L74.2 434.1L74.7 412.9L75.2 429.9L75.7 445.0L76.2 397.6L76.8 447.4L77.3 442.1L77.8 418.8L78.3 414.5L78.8 438.9L79.3 457.8L79.8 411.3L80.3 436.0L80.8 432.9L81.4 420.2L81.9 434.5L82.4 440.0L82.9 427.7L83.4 425.4L83.9 417.1L84.4 431.6L84.9 417.0L85.5 438.7L86.0 434.7L86.5 416.1L87.0 444.5L87.5 431.4L88.0 417.1L88.5 425.4L89.0 420.5L89.5 427.4L90.1 452.2L90.6 416.8L91.1 433.0L91.6 438.2L92.1 420.6L92.6 424.8L93.1 429.1L93.6 418.7L94.2 445.0L94.7 429.7L95.2 443.7L95.7 418.8L96.2 426.0L96.7 430.0L97.2 417.4L97.7 437.7L98.2 437.9L98.8 397.6L99.3 436.1L99.8 441.1L100.3 419.7L100.8 440.7L101.3 410.5L101.8 444.2L102.3 430.0L102.9 428.9L103.4 431.5L103.9 436.3L104.4 431.7L104.9 427.1L105.4 433.4L105.9 414.7L106.4 426.8L106.9 443.9L107.5 434.6L108.0 421.5L108.5 422.2L109.0 439.4L109.5 435.3L110.0 415.3L110.5 426.6L111.0 437.4L111.5 430.7L112.1 420.2L112.6 444.1L113.1 421.8L113.6 422.6L114.1 440.1L114.6 434.7L115.1 426.0L115.6 443.2L116.2 406.4L116.7 464.1L117.2 410.1L117.7 427.4L118.2 431.9L118.7 437.5L119.2 410.7L119.7 447.1L120.2 431.8L120.8 435.0L121.3 427.9L121.8 436.5L122.3 425.0L122.8 410.7L123.3 447.8L123.8 423.1L124.3 456.0L124.9 413.1L125.4 440.8L125.9 422.6L126.4 429.9L126.9 436.0L127.4 421.5L127.9 443.7L128.4 424.5L128.9 429.4L129.5 430.2L130.0 420.8L130.5 441.5L131.0 427.6L131.5 456.7L132.0 411.9L132.5 429.8L133.0 435.2L133.6 417.2L134.1 433.2L134.6 430.7L135.1 412.4L135.6 457.9L136.1 429.9L136.6 422.2L137.1 435.7L137.6 438.9L138.2 409.6L138.7 418.9L139.2 436.2L139.7 422.3L140.2 451.0L140.7 422.6L141.2 431.1L141.7 431.8L142.2 444.8L142.8 411.0L143.3 430.7L143.8 432.7L144.3 440.3L144.8 416.1L145.3 433.1L145.8 429.8L146.3 435.5L146.9 422.8L147.4 430.5L147.9 447.5L148.4 426.6L148.9 422.5L149.4 439.2L149.9 425.4L150.4 430.7L150.9 426.9L151.5 439.9L152.0 423.7L152.5 442.7L153.0 424.9L153.5 441.7L154.0 418.9L154.5 422.3L155.0 451.2L155.6 416.8L156.1 413.7L156.6 456.7L157.1 429.0L157.6 434.0L158.1 431.8L158.6 441.9L159.1 426.2L159.6 433.1L160.2 428.3L160.7 438.0L161.2 442.1L161.7 419.4L162.2 439.0L162.7 426.5L163.2 431.8L163.7 430.5L164.3 401.9L164.8 456.8L165.3 425.9L165.8 436.8L166.3 427.5L166.8 432.2L167.3 422.5L167.8 448.6L168.3 438.9L168.9 437.8L169.4 440.9L169.9 397.8L170.4 443.7L170.9 425.5L171.4 433.4L171.9 445.6L172.4 432.8L172.9 438.6L173.5 438.2L174.0 435.9L174.5 420.6L175.0 449.2L175.5 442.5L176.0 425.9L176.5 435.5L177.0 471.4L177.6 428.8L178.1 439.7L178.6 433.0L179.1 440.2L179.6 430.5L180.1 441.7L180.6 442.5L181.1 449.4L181.6 433.6L182.2 451.8L182.7 423.8L183.2 443.2L183.7 448.3L184.2 440.7L184.7 439.3L185.2 443.7L185.7 441.1L186.3 422.0L186.8 453.7L187.3 440.3L187.8 448.7L188.3 424.4L188.8 457.2L189.3 442.9L189.8 433.1L190.3 451.8L190.9 434.1L191.4 458.0L191.9 424.9L192.4 450.3L192.9 447.9L193.4 425.7L193.9 451.5L194.4 454.0L195.0 431.3L195.5 438.7L196.0 463.5L196.5 432.0L197.0 454.3L197.5 438.8L198.0 446.5L198.5 456.6L199.0 448.5L199.6 452.9L200.1 443.4L200.6 455.4L201.1 444.4L201.6 453.9L202.1 443.9L202.6 453.7L203.1 446.8L203.7 441.5L204.2 458.0L204.7 452.1L205.2 445.9L205.7 453.0L206.2 448.5L206.7 454.3L207.2 449.0L207.7 470.4L208.3 450.5L208.8 437.7L209.3 465.9L209.8 451.8L210.3 453.7L210.8 451.2L211.3 467.1L211.8 458.2L212.3 441.7L212.9 472.9L213.4 463.1L213.9 447.5L214.4 452.8L214.9 478.1L215.4 437.9L215.9 479.0L216.4 452.3L217.0 457.8L217.5 472.1L218.0 454.2L218.5 454.6L219.0 470.3L219.5 466.4L220.0 452.7L220.5 455.3L221.0 460.0L221.6 465.7L222.1 488.1L222.6 444.4L223.1 477.8L223.6 469.4L224.1 460.0L224.6 461.9L225.1 456.8L225.7 481.1L226.2 466.6L226.7 473.9L227.2 467.0L227.7 464.7L228.2 459.4L228.7 480.8L229.2 458.2L229.7 480.1L230.3 467.0L230.8 457.9L231.3 474.8L231.8 480.0L232.3 461.7L232.8 471.5L233.3 473.9L233.8 483.7L234.3 468.5L234.9 470.6L235.4 468.3L235.9 465.0L236.4 488.6L236.9 461.9L237.4 472.4L237.9 471.7L238.4 477.1L239.0 474.9L239.5 479.0L240.0 483.6L240.5 467.0L241.0 467.8L241.5 495.1L242.0 457.5L242.5 477.0L243.0 486.1L243.6 471.4L244.1 477.5L244.6 470.9L245.1 483.9L245.6 484.3L246.1 469.4L246.6 480.0L247.1 480.5L247.7 480.1L248.2 482.0L248.7 471.3L249.2 477.5L249.7 485.1L250.2 490.2L250.7 486.5L251.2 469.3L251.7 492.1L252.3 486.0L252.8 478.3L253.3 473.6L253.8 489.2L254.3 486.5L254.8 494.6L255.3 478.6L255.8 467.2L256.4 494.2L256.9 501.4L257.4 466.7L257.9 484.3L258.4 493.9L258.9 481.8L259.4 480.7L259.9 493.7L260.4 490.3L261.0 487.7L261.5 490.4L262.0 484.9L262.5 478.1L263.0 491.7L263.5 490.5L264.0 501.1L264.5 483.7L265.1 488.3L265.6 495.9L266.1 486.5L266.6 496.9L267.1 487.8L267.6 488.6L268.1 488.5L268.6 505.1L269.1 482.7L269.7 502.7L270.2 486.1L270.7 504.0L271.2 485.7L271.7 494.2L272.2 510.2L272.7 493.4L273.2 467.0L273.7 501.7L274.3 499.9L274.8 489.2L275.3 503.7L275.8 488.8L276.3 495.7L276.8 485.6L277.3 511.4L277.8 502.8L278.4 491.3L278.9 493.7L279.4 505.5L279.9 504.1L280.4 504.8L280.9 509.9L281.4 496.2L281.9 504.1L282.4 492.9L283.0 502.2L283.5 506.4L284.0 503.0L284.5 492.0L285.0 518.5L285.5 504.5L286.0 506.5L286.5 503.1L287.1 496.1L287.6 501.5L288.1 505.1L288.6 515.9L289.1 500.0L289.6 517.1L290.1 502.5L290.6 511.0L291.1 493.8L291.7 524.0L292.2 496.3L292.7 517.2L293.2 503.4L293.7 511.8L294.2 510.3L294.7 486.1L295.2 520.2L295.8 519.3L296.3 505.9L296.8 498.4L297.3 530.2L297.8 505.0L298.3 501.4L298.8 512.2L299.3 512.4L299.8 505.0L300.4 516.3L300.9 516.0L301.4 510.4L301.9 519.8L302.4 500.0L302.9 523.2L303.4 507.2L303.9 524.2L304.4 517.3L305.0 511.8L305.5 510.7L306.0 515.2L306.5 531.6L307.0 515.8L307.5 512.7L308.0 507.3L308.5 517.8L309.1 524.9L309.6 530.4L310.1 507.0L310.6 525.7L311.1 519.5L311.6 513.5L312.1 519.2L312.6 527.3L313.1 525.4L313.7 518.0L314.2 525.6L314.7 517.3L315.2 506.8L315.7 509.5L316.2 527.0L316.7 529.1L317.2 527.2L317.8 521.2L318.3 520.8L318.8 516.6L319.3 533.9L319.8 516.5L320.3 520.4L320.8 535.4L321.3 503.8L321.8 529.7L322.4 525.7L322.9 528.4L323.4 524.7L323.9 527.7L324.4 525.5L324.9 525.4L325.4 526.4L325.9 530.1L326.4 527.2L327.0 521.8L327.5 535.3L328.0 537.2L328.5 520.2L329.0 528.2L329.5 533.0L330.0 529.8L330.5 520.4L331.1 531.6L331.6 525.9L332.1 531.9L332.6 533.7L333.1 523.6L333.6 533.3L334.1 531.3L334.6 543.4L335.1 528.9L335.7 518.8L336.2 541.6L336.7 524.0L337.2 534.4L337.7 529.0L338.2 528.0L338.7 536.8L339.2 539.9L339.8 518.0L340.3 534.6L340.8 548.9L341.3 523.3L341.8 546.6L342.3 527.6L342.8 535.6L343.3 533.3L343.8 536.3L344.4 530.3L344.9 553.3L345.4 525.7L345.9 541.5L346.4 548.1L346.9 515.5L347.4 553.8L347.9 548.4L348.5 525.9L349.0 550.8L349.5 523.0L350.0 546.7L350.5 539.3L351.0 535.0L351.5 552.0L352.0 544.4L352.5 537.3L353.1 539.8L353.6 550.7L354.1 523.9L354.6 549.9L355.1 538.2L355.6 555.4L356.1 542.7L356.6 541.0L357.1 550.3L357.7 529.1L358.2 553.8L358.7 543.1L359.2 547.0L359.7 543.8L360.2 554.3L360.7 536.8L361.2 545.9L361.8 546.2L362.3 539.6L362.8 563.7L363.3 544.0L363.8 553.3L364.3 541.6L364.8 547.4L365.3 554.2L365.8 545.8L366.4 552.5L366.9 539.7L367.4 549.7L367.9 550.9L368.4 564.5L368.9 537.2L369.4 550.9L369.9 549.7L370.5 562.0L371.0 551.8L371.5 552.3L372.0 558.5L372.5 543.0" fill="none" stroke="#b4b4b4" stroke-width="0.7"/>
<path d="M65.5 428.9L65.9 428.1L66.3 427.9L66.7 428.0L67.0 428.2L67.4 428.7L67.8 429.8L68.2 431.1L68.6 431.9L69.0 431.7L69.3 430.7L69.7 429.5L70.1 428.9L70.5 429.1L70.9 429.8L71.3 430.4L71.6 430.7L72.0 430.9L72.4 431.3L72.8 431.9L73.2 432.4L73.6 432.4L73.9 431.8L74.3 430.7L74.7 429.5L75.1 428.6L75.5 428.3L75.9 428.7L76.2 429.5L76.6 430.2L77.0 430.5L77.4 430.5L77.8 430.4L78.2 430.6L78.5 431.2L78.9 431.7L79.3 431.9L79.7 431.3L80.1 430.2L80.5 428.7L80.8 427.3L81.2 426.2L81.6 425.7L82.0 425.7L82.4 426.1L82.8 426.5L83.2 426.8L83.5 427.2L83.9 427.8L84.3 428.6L84.7 429.3L85.1 430.1L85.5 431.1L85.8 432.1L86.2 432.7L86.6 432.5L87.0 431.4L87.4 429.6L87.8 427.8L88.1 426.5L88.5 426.1L88.9 426.6L89.3 427.8L89.7 429.3L90.1 431.0L90.4 432.5L90.8 433.9L91.2 435.0L91.6 435.9L92.0 436.5L92.4 436.9L92.7 436.6L93.1 435.9L93.5 435.1L93.9 434.7L94.3 435.0L94.7 435.9L95.0 437.2L95.4 438.6L95.8 439.8L96.2 440.4L96.6 440.2L97.0 438.9L97.4 436.9L97.7 435.2L98.1 434.5L98.5 434.7L98.9 435.3L99.3 435.7L99.7 435.9L100.0 436.0L100.4 436.0L100.8 435.9L101.2 435.4L101.6 434.8L102.0 434.3L102.3 434.1L102.7 434.4L103.1 434.8L103.5 435.0L103.9 434.8L104.3 434.0L104.6 432.8L105.0 431.5L105.4 430.4L105.8 429.7L106.2 429.3L106.6 428.9L106.9 428.4L107.3 427.6L107.7 426.9L108.1 426.5L108.5 426.2L108.9 425.8L109.2 425.0L109.6 424.2L110.0 423.9L110.4 424.4L110.8 425.9L111.2 428.1L111.5 430.8L111.9 433.4L112.3 435.4L112.7 436.1L113.1 435.5L113.5 433.9L113.9 432.1L114.2 431.0L114.6 430.9L115.0 431.4L115.4 432.1L115.8 432.3L116.2 432.2L116.5 431.8L116.9 431.5L117.3 431.1L117.7 430.9L118.1 431.0L118.5 431.8L118.8 433.5L119.2 435.5L119.6 437.1L120.0 437.8L120.4 437.8L120.8 437.7L121.1 438.1L121.5 438.9L121.9 439.5L122.3 439.2L122.7 437.8L123.1 435.8L123.4 433.8L123.8 432.3L124.2 431.4L124.6 431.0L125.0 430.4L125.4 429.5L125.7 428.2L126.1 426.8L126.5 425.8L126.9 425.3L127.3 425.2L127.7 425.1L128.1 424.6L128.4 423.7L128.8 422.8L129.2 422.1L129.6 421.8L130.0 422.2L130.4 423.0L130.7 424.4L131.1 426.2L131.5 428.0L131.9 429.8L132.3 431.4L132.7 432.7L133.0 433.5L133.4 433.6L133.8 433.2L134.2 432.8L134.6 432.6L135.0 432.6L135.3 432.3L135.7 431.6L136.1 430.7L136.5 430.2L136.9 430.4L137.3 431.2L137.6 432.3L138.0 433.7L138.4 434.9L138.8 435.5L139.2 435.3L139.6 434.3L139.9 433.1L140.3 431.9L140.7 430.9L141.1 430.1L141.5 429.0L141.9 427.9L142.2 427.1L142.6 427.1L143.0 427.8L143.4 428.8L143.8 429.6L144.2 429.8L144.6 429.6L144.9 429.3L145.3 429.4L145.7 430.3L146.1 431.6L146.5 433.1L146.9 434.2L147.2 434.8L147.6 435.1L148.0 435.1L148.4 434.6L148.8 433.7L149.2 432.6L149.5 431.7L149.9 431.0L150.3 430.3L150.7 429.8L151.1 429.7L151.5 430.2L151.8 431.2L152.2 432.5L152.6 433.7L153.0 434.6L153.4 434.5L153.8 433.4L154.1 432.0L154.5 431.1L154.9 431.1L155.3 432.0L155.7 433.4L156.1 434.9L156.4 436.3L156.8 437.3L157.2 437.7L157.6 426.4L219.0 426.4L219.0 461.3L219.0 461.3L219.4 462.0L219.8 462.5L220.2 462.5L220.5 461.9L220.9 461.1L221.3 460.6L221.7 460.8L222.1 461.9L222.5 463.8L222.8 466.0L223.2 468.0L223.6 469.4L224.0 470.4L224.4 471.5L224.8 472.6L225.1 473.6L225.5 474.0L225.9 473.8L226.3 473.2L226.7 473.0L227.1 473.3L227.4 473.6L227.8 473.4L228.2 472.5L228.6 471.6L229.0 471.2L229.4 471.5L229.7 472.0L230.1 472.1L230.5 471.4L230.9 470.0L231.3 468.8L231.7 468.3L232.0 468.7L232.4 469.4L232.8 469.8L233.2 470.1L233.6 470.8L234.0 472.2L234.3 473.8L234.7 475.0L235.1 475.4L235.5 475.0L235.9 474.2L236.3 473.5L236.7 473.0L237.0 473.0L237.4 473.7L237.8 475.1L238.2 476.7L238.6 478.0L239.0 478.5L239.3 477.9L239.7 476.8L240.1 475.8L240.5 475.1L240.9 474.7L241.3 474.5L241.6 474.2L242.0 473.8L242.4 473.4L242.8 473.2L243.2 473.2L243.6 473.5L243.9 474.3L244.3 475.5L244.7 476.6L245.1 477.5L245.5 477.9L245.9 478.0L246.2 478.0L246.6 477.9L247.0 477.7L247.4 477.1L247.8 476.6L248.2 476.4L248.5 476.9L248.9 478.1L249.3 479.7L249.7 481.2L250.1 482.6L250.5 483.8L250.9 485.0L251.2 486.2L251.6 487.2L252.0 487.4L252.4 486.6L252.8 484.7L253.2 482.4L253.5 480.5L253.9 479.7L254.3 479.9L254.7 480.5L255.1 480.9L255.5 481.0L255.8 480.9L256.2 480.4L256.6 479.3L257.0 477.3L257.4 475.0L257.8 473.0L258.1 472.1L258.5 472.7L258.9 474.3L259.3 476.7L259.7 479.3L260.1 481.9L260.4 484.2L260.8 486.0L261.2 487.2L261.6 487.5L262.0 487.3L262.4 487.0L262.7 487.0L263.1 487.6L263.5 488.2L263.9 488.6L264.3 488.8L264.7 489.2L265.1 490.0L265.4 491.1L265.8 492.4L266.2 493.7L266.6 494.6L267.0 494.8L267.4 494.2L267.7 493.0L268.1 491.9L268.5 491.5L268.9 491.7L269.3 492.3L269.7 493.1L270.0 494.0L270.4 494.9L270.8 495.8L271.2 496.7L271.6 497.7L272.0 499.1L272.3 500.7L272.7 502.1L273.1 503.1L273.5 503.7L273.9 503.8L274.3 503.4L274.6 502.6L275.0 501.6L275.4 500.6L275.8 499.9L276.2 499.6L276.6 499.5L276.9 499.8L277.3 500.1L277.7 500.5L278.1 501.1L278.5 501.9L278.9 502.8L279.2 503.5L279.6 503.6L280.0 503.1L280.4 502.1L280.8 501.1L281.2 500.7L281.6 501.2L281.9 502.4L282.3 504.0L282.7 505.3L283.1 505.9L283.5 505.6L283.9 504.5L284.2 502.8L284.6 501.0L285.0 499.5L285.4 498.6L285.8 498.1L286.2 497.9L286.5 498.0L286.9 498.5L287.3 499.8L287.7 501.6L288.1 503.7L288.5 505.7L288.8 507.4L289.2 508.8L289.6 509.7L290.0 510.1L290.4 509.9L290.8 509.4L291.1 508.8L291.5 507.8L291.9 506.5L292.3 504.7L292.7 503.0L293.1 501.6L293.4 501.2L293.8 501.9L294.2 503.6L294.6 506.0L295.0 508.4L295.4 510.5L295.8 511.9L296.1 512.6L296.5 512.8L296.9 512.9L297.3 512.8L297.7 512.6L298.1 512.4L298.4 512.2L298.8 512.2L299.2 512.5L299.6 513.1L300.0 514.0L300.4 515.1L300.7 516.2L301.1 517.0L301.5 517.3L301.9 517.2L302.3 516.9L302.7 516.7L303.0 517.0L303.4 517.6L303.8 518.3L304.2 518.5L304.6 517.9L305.0 516.5L305.3 514.8L305.7 513.2L306.1 512.3L306.5 512.2L306.9 513.1L307.3 514.9L307.6 517.0L308.0 518.9L308.4 520.4L308.8 521.7L309.2 523.1L309.6 524.3L309.9 524.7L310.3 523.7L310.7 521.2L311.1 518.1L311.5 515.7L311.9 515.1L312.3 516.6L312.6 519.2L313.0 521.4L313.4 522.4L313.8 522.2L314.2 521.6L314.6 521.3L314.9 521.5L315.3 522.1L315.7 522.4L316.1 522.0L316.5 520.7L316.9 518.8L317.2 517.2L317.6 516.8L318.0 517.8L318.4 519.9L318.8 522.6L319.2 525.2L319.5 527.0L319.9 527.6L320.3 527.3L320.7 526.2L321.1 525.0L321.5 524.0L321.8 523.3L322.2 523.1L322.6 523.4L323.0 524.0L323.4 524.6L323.8 524.5L324.1 523.7L324.5 522.8L324.9 522.3L325.3 522.6L325.7 523.5L326.1 524.6L326.4 525.6L326.8 526.4L327.2 526.9L327.6 526.8L328.0 526.3L328.4 525.8L328.8 525.7L329.1 526.4L329.5 527.7L329.9 529.3L330.3 530.7L330.7 531.5L331.1 531.4L331.4 530.4L331.8 529.1L332.2 528.3L332.6 528.6L333.0 529.9L333.4 531.9L333.7 533.7L334.1 534.7L334.5 534.7L334.9 534.4L335.3 534.3L335.7 534.8L336.0 535.7L336.4 536.5L336.8 537.0L337.2 537.3L337.6 537.7L338.0 538.6L338.3 539.9L338.7 541.1L339.1 541.4L339.5 540.6L339.9 539.1L340.3 537.5L340.6 536.2L341.0 535.2L341.4 534.6L341.8 534.4L342.2 534.6L342.6 535.2L343.0 536.0L343.3 536.7L343.7 537.1L344.1 537.3L344.5 537.4L344.9 537.9L345.3 538.7L345.6 539.9L346.0 541.0L346.4 541.4L346.8 540.7L347.2 539.3L347.6 537.7L347.9 536.9L348.3 537.3L348.7 538.6L349.1 540.5L349.5 542.2L349.9 543.0L350.2 542.6L350.6 541.3L351.0 539.8L351.4 538.7L351.8 538.5L352.2 539.2L352.5 540.4L352.9 541.4L353.3 541.8L353.7 541.8L354.1 541.5L354.5 541.4L354.8 541.5L355.2 541.3L355.6 540.7L356.0 539.8L356.4 539.0L356.8 539.3L357.1 540.8L357.5 543.3L357.9 545.9L358.3 547.8L358.7 548.8L359.1 548.9L359.5 548.6L359.8 547.9L360.2 547.2L360.6 546.4L361.0 545.4L361.4 544.4L361.8 543.6L362.1 543.3L362.5 543.4L362.9 543.9L363.3 544.5L363.7 545.2L364.1 546.0L364.4 546.8L364.8 547.5L365.2 548.3L365.6 549.2L366.0 550.6L366.4 552.3L366.7 554.1L367.1 555.7L367.5 556.6L367.9 556.6L368.3 556.0L368.7 555.1L369.0 554.7L369.4 554.8L369.8 555.5L370.2 556.3L370.6 557.1L371.0 557.3L371.3 556.9L371.7 555.7L372.1 554.3L372.5 553.3" fill="none" stroke="#3567a6" stroke-width="1.7" stroke-linejoin="round"/>
<path d="M65.5 428.0L65.9 427.3L66.3 427.2L66.7 427.3L67.0 427.6L67.4 428.3L67.8 429.5L68.2 430.9L68.6 431.8L69.0 431.7L69.3 430.8L69.7 429.8L70.1 429.3L70.5 429.6L70.9 430.3L71.3 430.9L71.6 431.2L72.0 431.4L72.4 431.8L72.8 432.3L73.2 432.8L73.6 432.8L73.9 432.2L74.3 431.1L74.7 429.9L75.1 429.0L75.5 428.8L75.9 429.2L76.2 430.0L76.6 430.8L77.0 431.2L77.4 431.3L77.8 431.3L78.2 431.5L78.5 432.0L78.9 432.5L79.3 432.5L79.7 431.8L80.1 430.4L80.5 428.7L80.8 427.1L81.2 425.8L81.6 425.0L82.0 424.9L82.4 425.2L82.8 425.5L83.2 425.9L83.5 426.4L83.9 427.2L84.3 428.1L84.7 429.0L85.1 430.0L85.5 431.0L85.8 432.2L86.2 432.9L86.6 432.7L87.0 431.7L87.4 429.9L87.8 428.2L88.1 427.0L88.5 426.8L88.9 427.4L89.3 428.8L89.7 430.5L90.1 432.3L90.4 434.0L90.8 435.4L91.2 436.5L91.6 437.3L92.0 437.9L92.4 438.0L92.7 437.6L93.1 436.7L93.5 435.7L93.9 435.1L94.3 435.2L94.7 436.0L95.0 437.2L95.4 438.4L95.8 439.6L96.2 440.2L96.6 439.9L97.0 438.6L97.4 436.7L97.7 434.9L98.1 434.1L98.5 434.2L98.9 434.7L99.3 435.0L99.7 435.0L100.0 434.9L100.4 434.7L100.8 434.4L101.2 433.8L101.6 433.1L102.0 432.5L102.3 432.3L102.7 432.6L103.1 433.1L103.5 433.4L103.9 433.3L104.3 432.6L104.6 431.6L105.0 430.4L105.4 429.4L105.8 428.8L106.2 428.5L106.6 428.2L106.9 427.7L107.3 427.0L107.7 426.3L108.1 425.9L108.5 425.6L108.9 425.2L109.2 424.4L109.6 423.7L110.0 423.4L110.4 424.0L110.8 425.5L111.2 427.8L111.5 430.5L111.9 433.1L112.3 435.0L112.7 435.6L113.1 434.9L113.5 433.1L113.9 431.2L114.2 429.9L114.6 429.6L115.0 430.0L115.4 430.5L115.8 430.6L116.2 430.4L116.5 430.1L116.9 429.8L117.3 429.6L117.7 429.4L118.1 429.7L118.5 430.8L118.8 432.7L119.2 434.9L119.6 436.6L120.0 437.5L120.4 437.5L120.8 437.5L121.1 437.8L121.5 438.5L121.9 439.0L122.3 438.6L122.7 437.2L123.1 435.0L123.4 432.9L123.8 431.4L124.2 430.6L124.6 430.2L125.0 429.8L125.4 429.0L125.7 427.9L126.1 426.8L126.5 426.1L126.9 426.0L127.3 426.3L127.7 426.5L128.1 426.4L128.4 425.9L128.8 425.2L129.2 424.8L129.6 424.7L130.0 425.2L130.4 426.1L130.7 427.4L131.1 429.0L131.5 430.6L131.9 432.1L132.3 433.2L132.7 434.0L133.0 434.3L133.4 433.9L133.8 432.9L134.2 432.0L134.6 431.4L135.0 430.9L135.3 430.3L135.7 429.2L136.1 428.2L136.5 427.6L136.9 427.7L137.3 428.5L137.6 429.8L138.0 431.4L138.4 432.8L138.8 433.8L139.2 433.9L139.6 433.3L139.9 432.4L140.3 431.6L140.7 431.0L141.1 430.4L141.5 429.6L141.9 428.6L142.2 427.9L142.6 427.9L143.0 428.5L143.4 429.3L143.8 429.8L144.2 429.8L144.6 429.3L144.9 428.7L145.3 428.4L145.7 429.0L146.1 430.1L146.5 431.4L146.9 432.3L147.2 432.9L147.6 433.2L148.0 433.2L148.4 432.8L148.8 432.0L149.2 431.0L149.5 430.2L149.9 429.6L150.3 429.0L150.7 428.5L151.1 428.4L151.5 428.8L151.8 429.6L152.2 430.6L152.6 431.6L153.0 432.2L153.4 431.8L153.8 430.4L154.1 428.7L154.5 427.6L154.9 427.4L155.3 428.1L155.7 429.4L156.1 430.8L156.4 432.3L156.8 433.4L157.2 433.9L157.6 426.9L158.0 426.9L158.4 426.9L158.8 426.9L159.1 426.9L159.5 426.9L159.9 426.9L160.3 426.9L160.7 426.9L161.1 426.9L161.4 426.9L161.8 426.9L162.2 426.9L162.6 426.9L163.0 426.9L163.4 426.9L163.7 426.9L164.1 426.9L164.5 426.9L164.9 427.0L165.3 427.0L165.7 427.0L166.0 427.0L166.4 427.0L166.8 427.0L167.2 427.0L167.6 427.1L168.0 427.1L168.3 427.1L168.7 427.1L169.1 427.1L169.5 427.1L169.9 427.2L170.3 427.2L170.6 427.2L171.0 427.2L171.4 427.2L171.8 427.3L172.2 427.3L172.6 427.3L172.9 427.3L173.3 427.3L173.7 427.4L174.1 427.4L174.5 427.4L174.9 427.4L175.3 427.5L175.6 427.5L176.0 427.5L176.4 427.6L176.8 427.6L177.2 427.7L177.6 427.7L177.9 427.8L178.3 427.9L178.7 428.0L179.1 428.1L179.5 428.3L179.9 428.4L180.2 428.5L180.6 428.7L181.0 428.8L181.4 429.0L181.8 429.2L182.2 429.3L182.5 429.5L182.9 429.7L183.3 429.9L183.7 430.1L184.1 430.3L184.5 430.4L184.8 430.6L185.2 430.8L185.6 431.0L186.0 431.2L186.4 431.4L186.8 431.6L187.1 431.7L187.5 431.9L187.9 432.1L188.3 432.2L188.7 432.4L189.1 432.6L189.5 432.7L189.8 432.9L190.2 433.1L190.6 433.3L191.0 433.4L191.4 433.6L191.8 433.8L192.1 434.0L192.5 434.1L192.9 434.3L193.3 434.5L193.7 434.7L194.1 434.9L194.4 435.0L194.8 435.2L195.2 435.4L195.6 435.6L196.0 435.8L196.4 436.0L196.7 436.2L197.1 436.3L197.5 436.5L197.9 436.7L198.3 436.9L198.7 437.1L199.0 437.3L199.4 437.5L199.8 437.7L200.2 437.8L200.6 438.0L201.0 438.2L201.3 438.4L201.7 438.6L202.1 438.8L202.5 439.0L202.9 439.2L203.3 439.3L203.7 439.5L204.0 439.7L204.4 439.9L204.8 440.1L205.2 440.3L205.6 440.5L206.0 440.7L206.3 440.9L206.7 441.1L207.1 441.3L207.5 441.5L207.9 441.7L208.3 441.9L208.6 442.1L209.0 442.3L209.4 442.5L209.8 442.7L210.2 442.9L210.6 443.1L210.9 443.3L211.3 443.5L211.7 443.7L212.1 443.9L212.5 444.1L212.9 444.3L213.2 444.5L213.6 444.6L214.0 444.8L214.4 445.0L214.8 445.2L215.2 445.3L215.5 445.5L215.9 445.7L216.3 445.9L216.7 446.0L217.1 446.2L217.5 446.3L217.8 446.5L218.2 446.6L218.6 446.7L219.0 461.9L219.4 462.7L219.8 463.3L220.2 463.4L220.5 463.0L220.9 462.3L221.3 461.8L221.7 462.1L222.1 463.2L222.5 465.0L222.8 467.1L223.2 469.0L223.6 470.3L224.0 471.2L224.4 472.1L224.8 473.1L225.1 474.1L225.5 474.4L225.9 474.1L226.3 473.5L226.7 473.3L227.1 473.6L227.4 474.0L227.8 473.7L228.2 472.9L228.6 472.0L229.0 471.6L229.4 472.0L229.7 472.5L230.1 472.6L230.5 471.8L230.9 470.4L231.3 469.1L231.7 468.6L232.0 468.9L232.4 469.4L232.8 469.7L233.2 469.8L233.6 470.3L234.0 471.5L234.3 473.0L234.7 474.0L235.1 474.3L235.5 473.8L235.9 473.1L236.3 472.3L236.7 471.9L237.0 472.1L237.4 472.9L237.8 474.4L238.2 476.3L238.6 477.8L239.0 478.4L239.3 478.1L239.7 477.2L240.1 476.3L240.5 475.8L240.9 475.6L241.3 475.5L241.6 475.3L242.0 475.1L242.4 474.8L242.8 474.6L243.2 474.6L243.6 475.0L243.9 475.8L244.3 477.0L244.7 478.1L245.1 479.0L245.5 479.3L245.9 479.3L246.2 479.2L246.6 478.9L247.0 478.5L247.4 477.8L247.8 477.1L248.2 476.7L248.5 477.1L248.9 478.1L249.3 479.5L249.7 480.8L250.1 482.1L250.5 483.3L250.9 484.5L251.2 485.7L251.6 486.7L252.0 487.1L252.4 486.4L252.8 484.7L253.2 482.6L253.5 481.0L253.9 480.5L254.3 481.0L254.7 481.8L255.1 482.5L255.5 482.9L255.8 483.0L256.2 482.7L256.6 481.8L257.0 480.2L257.4 478.1L257.8 476.3L258.1 475.6L258.5 476.3L258.9 478.0L259.3 480.4L259.7 482.9L260.1 485.4L260.4 487.4L260.8 488.9L261.2 489.7L261.6 489.7L262.0 489.1L262.4 488.4L262.7 488.2L263.1 488.4L263.5 488.8L263.9 489.1L264.3 489.2L264.7 489.6L265.1 490.3L265.4 491.4L265.8 492.7L266.2 493.9L266.6 494.7L267.0 494.9L267.4 494.2L267.7 492.9L268.1 491.7L268.5 491.2L268.9 491.3L269.3 491.9L269.7 492.5L270.0 493.3L270.4 494.1L270.8 494.9L271.2 495.6L271.6 496.5L272.0 497.6L272.3 499.0L272.7 500.3L273.1 501.2L273.5 501.7L273.9 501.8L274.3 501.4L274.6 500.6L275.0 499.6L275.4 498.7L275.8 498.1L276.2 497.8L276.6 497.8L276.9 498.0L277.3 498.3L277.7 498.7L278.1 499.3L278.5 500.1L278.9 501.0L279.2 501.8L279.6 502.0L280.0 501.6L280.4 500.7L280.8 499.9L281.2 499.7L281.6 500.4L281.9 501.9L282.3 503.6L282.7 505.0L283.1 505.6L283.5 505.3L283.9 504.0L284.2 502.1L284.6 500.2L285.0 498.5L285.4 497.4L285.8 496.8L286.2 496.6L286.5 496.6L286.9 497.2L287.3 498.5L287.7 500.4L288.1 502.6L288.5 504.7L288.8 506.6L289.2 508.1L289.6 509.1L290.0 509.5L290.4 509.5L290.8 509.1L291.1 508.6L291.5 507.8L291.9 506.7L292.3 505.1L292.7 503.5L293.1 502.3L293.4 502.0L293.8 502.9L294.2 504.7L294.6 507.1L295.0 509.5L295.4 511.5L295.8 512.9L296.1 513.5L296.5 513.7L296.9 513.6L297.3 513.4L297.7 513.1L298.1 512.8L298.4 512.6L298.8 512.5L299.2 512.8L299.6 513.3L300.0 514.1L300.4 515.2L300.7 516.3L301.1 517.0L301.5 517.3L301.9 517.1L302.3 516.9L302.7 516.7L303.0 517.0L303.4 517.7L303.8 518.5L304.2 518.7L304.6 518.2L305.0 516.8L305.3 515.2L305.7 513.7L306.1 512.7L306.5 512.7L306.9 513.6L307.3 515.5L307.6 517.7L308.0 519.7L308.4 521.2L308.8 522.6L309.2 524.0L309.6 525.2L309.9 525.6L310.3 524.6L310.7 522.1L311.1 518.9L311.5 516.4L311.9 515.6L312.3 517.0L312.6 519.4L313.0 521.5L313.4 522.3L313.8 521.9L314.2 521.1L314.6 520.6L314.9 520.6L315.3 521.0L315.7 521.3L316.1 520.8L316.5 519.3L316.9 517.4L317.2 515.8L317.6 515.3L318.0 516.2L318.4 518.4L318.8 521.0L319.2 523.6L319.5 525.5L319.9 526.2L320.3 526.0L320.7 525.1L321.1 524.0L321.5 523.2L321.8 522.7L322.2 522.7L322.6 523.2L323.0 524.0L323.4 524.6L323.8 524.7L324.1 524.0L324.5 523.0L324.9 522.6L325.3 522.9L325.7 523.7L326.1 524.7L326.4 525.7L326.8 526.5L327.2 526.8L327.6 526.7L328.0 526.1L328.4 525.5L328.8 525.4L329.1 525.9L329.5 527.1L329.9 528.6L330.3 529.9L330.7 530.5L331.1 530.2L331.4 529.1L331.8 527.7L332.2 526.8L332.6 526.9L333.0 528.2L333.4 530.1L333.7 531.8L334.1 532.6L334.5 532.6L334.9 532.2L335.3 532.0L335.7 532.4L336.0 533.3L336.4 534.1L336.8 534.7L337.2 535.0L337.6 535.4L338.0 536.5L338.3 538.0L338.7 539.3L339.1 539.8L339.5 539.2L339.9 537.9L340.3 536.6L340.6 535.5L341.0 534.8L341.4 534.4L341.8 534.4L342.2 534.7L342.6 535.5L343.0 536.3L343.3 537.1L343.7 537.5L344.1 537.7L344.5 537.8L344.9 538.2L345.3 539.0L345.6 540.1L346.0 541.1L346.4 541.4L346.8 540.7L347.2 539.1L347.6 537.4L347.9 536.4L348.3 536.6L348.7 537.8L349.1 539.5L349.5 540.9L349.9 541.5L350.2 541.0L350.6 539.6L351.0 538.0L351.4 536.8L351.8 536.5L352.2 537.3L352.5 538.5L352.9 539.6L353.3 540.1L353.7 540.1L354.1 540.0L354.5 540.0L354.8 540.1L355.2 540.0L355.6 539.4L356.0 538.4L356.4 537.7L356.8 537.8L357.1 539.3L357.5 541.6L357.9 544.0L358.3 545.8L358.7 546.6L359.1 546.7L359.5 546.2L359.8 545.4L360.2 544.7L360.6 543.9L361.0 542.9L361.4 541.9L361.8 541.2L362.1 541.0L362.5 541.3L362.9 541.9L363.3 542.6L363.7 543.4L364.1 544.3L364.4 545.1L364.8 545.8L365.2 546.5L365.6 547.4L366.0 548.7L366.4 550.2L366.7 551.9L367.1 553.3L367.5 554.1L367.9 554.1L368.3 553.4L368.7 552.4L369.0 552.0L369.4 552.1L369.8 552.8L370.2 553.7L370.6 554.5L371.0 554.9L371.3 554.6L371.7 553.6L372.1 552.4L372.5 551.7" fill="none" stroke="#d4672a" stroke-width="2.6" stroke-linejoin="round"/>
<path d="M65.5 428.2L66.5 428.2L67.5 428.2L68.6 428.3L69.6 428.3L70.6 428.3L71.6 428.3L72.7 428.4L73.7 428.4L74.7 428.4L75.7 428.5L76.8 428.5L77.8 428.5L78.8 428.6L79.8 428.6L80.8 428.6L81.9 428.7L82.9 428.7L83.9 428.7L84.9 428.8L86.0 428.8L87.0 428.9L88.0 428.9L89.0 429.0L90.1 429.0L91.1 429.1L92.1 429.1L93.1 429.2L94.2 429.2L95.2 429.3L96.2 429.3L97.2 429.4L98.2 429.4L99.3 429.5L100.3 429.5L101.3 429.6L102.3 429.6L103.4 429.7L104.4 429.7L105.4 429.8L106.4 429.8L107.5 429.8L108.5 429.9L109.5 429.9L110.5 429.9L111.5 429.9L112.6 429.9L113.6 430.0L114.6 430.0L115.6 430.0L116.7 430.0L117.7 430.0L118.7 430.0L119.7 430.0L120.8 429.9L121.8 429.9L122.8 429.9L123.8 429.9L124.9 429.9L125.9 429.9L126.9 429.8L127.9 429.8L128.9 429.8L130.0 429.8L131.0 429.7L132.0 429.7L133.0 429.7L134.1 429.7L135.1 429.7L136.1 429.7L137.1 429.6L138.2 429.6L139.2 429.6L140.2 429.7L141.2 429.7L142.2 429.7L143.3 429.7L144.3 429.8L145.3 429.8L146.3 429.9L147.4 430.0L148.4 430.1L149.4 430.2L150.4 430.3L151.5 430.4L152.5 430.5L153.5 430.7L154.5 430.8L155.6 431.0L156.6 431.1L157.6 431.3L158.6 431.5L159.6 431.7L160.7 431.9L161.7 432.1L162.7 432.4L163.7 432.6L164.8 432.9L165.8 433.1L166.8 433.4L167.8 433.7L168.9 434.0L169.9 434.3L170.9 434.7L171.9 435.0L172.9 435.4L174.0 435.7L175.0 436.1L176.0 436.5L177.0 436.9L178.1 437.3L179.1 437.7L180.1 438.2L181.1 438.6L182.2 439.1L183.2 439.6L184.2 440.0L185.2 440.5L186.3 441.0L187.3 441.5L188.3 442.1L189.3 442.6L190.3 443.1L191.4 443.7L192.4 444.2L193.4 444.8L194.4 445.4L195.5 446.0L196.5 446.6L197.5 447.2L198.5 447.8L199.6 448.5L200.6 449.1L201.6 449.8L202.6 450.5L203.7 451.2L204.7 451.9L205.7 452.6L206.7 453.3L207.7 454.0L208.8 454.7L209.8 455.4L210.8 456.2L211.8 456.9L212.9 457.6L213.9 458.3L214.9 459.1L215.9 459.8L217.0 460.5L218.0 461.2L219.0 461.9L220.0 462.6L221.0 463.3L222.1 464.0L223.1 464.7L224.1 465.4L225.1 466.0L226.2 466.7L227.2 467.4L228.2 468.0L229.2 468.7L230.3 469.3L231.3 470.0L232.3 470.6L233.3 471.2L234.3 471.9L235.4 472.5L236.4 473.1L237.4 473.7L238.4 474.3L239.5 474.9L240.5 475.5L241.5 476.1L242.5 476.7L243.6 477.3L244.6 477.9L245.6 478.5L246.6 479.1L247.7 479.7L248.7 480.3L249.7 480.9L250.7 481.5L251.7 482.1L252.8 482.8L253.8 483.4L254.8 484.0L255.8 484.7L256.9 485.3L257.9 485.9L258.9 486.6L259.9 487.2L261.0 487.9L262.0 488.6L263.0 489.2L264.0 489.9L265.1 490.6L266.1 491.2L267.1 491.9L268.1 492.6L269.1 493.2L270.2 493.9L271.2 494.6L272.2 495.3L273.2 495.9L274.3 496.6L275.3 497.3L276.3 498.0L277.3 498.6L278.4 499.3L279.4 500.0L280.4 500.6L281.4 501.3L282.4 502.0L283.5 502.6L284.5 503.3L285.5 503.9L286.5 504.6L287.6 505.2L288.6 505.8L289.6 506.5L290.6 507.1L291.7 507.7L292.7 508.3L293.7 508.9L294.7 509.5L295.8 510.1L296.8 510.7L297.8 511.3L298.8 511.9L299.8 512.5L300.9 513.1L301.9 513.6L302.9 514.2L303.9 514.8L305.0 515.3L306.0 515.9L307.0 516.4L308.0 517.0L309.1 517.6L310.1 518.1L311.1 518.7L312.1 519.2L313.1 519.8L314.2 520.3L315.2 520.8L316.2 521.4L317.2 521.9L318.3 522.5L319.3 523.0L320.3 523.5L321.3 524.1L322.4 524.6L323.4 525.2L324.4 525.7L325.4 526.2L326.4 526.8L327.5 527.3L328.5 527.9L329.5 528.4L330.5 529.0L331.6 529.5L332.6 530.1L333.6 530.6L334.6 531.2L335.7 531.7L336.7 532.3L337.7 532.8L338.7 533.4L339.8 533.9L340.8 534.5L341.8 535.1L342.8 535.6L343.8 536.2L344.9 536.8L345.9 537.4L346.9 537.9L347.9 538.5L349.0 539.1L350.0 539.7L351.0 540.3L352.0 540.9L353.1 541.5L354.1 542.1L355.1 542.7L356.1 543.3L357.1 543.9L358.2 544.6L359.2 545.2L360.2 545.8L361.2 546.4L362.3 547.1L363.3 547.7L364.3 548.3L365.3 549.0L366.4 549.6L367.4 550.3L368.4 550.9L369.4 551.5L370.5 552.2L371.5 552.8L372.5 553.5" fill="none" stroke="#111" stroke-width="2.1" stroke-linejoin="round"/>
</g>
<path d="M65.5 383.2V608.2H372.5" fill="none" stroke="#4a4a4a" stroke-width="1"/>
<path d="M65.5 608.2v-3M126.9 608.2v-3M188.3 608.2v-3M249.7 608.2v-3M311.1 608.2v-3M372.5 608.2v-3M65.5 608.2h3M65.5 563.2h3M65.5 518.2h3M65.5 473.2h3M65.5 428.2h3M65.5 383.2h3" stroke="#4a4a4a" stroke-width="1"/>
<g font-size="15.6" fill="#222" stroke="#222" stroke-width="0.25"><text x="65.5" y="630.8" text-anchor="middle">0</text><text x="126.9" y="630.8" text-anchor="middle">2</text><text x="188.3" y="630.8" text-anchor="middle">4</text><text x="249.7" y="630.8" text-anchor="middle">6</text><text x="311.1" y="630.8" text-anchor="middle">8</text><text x="372.5" y="630.8" text-anchor="middle">10</text><text x="59.0" y="614.9" text-anchor="end">-0.8</text><text x="59.0" y="569.9" text-anchor="end">-0.6</text><text x="59.0" y="524.9" text-anchor="end">-0.4</text><text x="59.0" y="479.9" text-anchor="end">-0.2</text><text x="59.0" y="434.9" text-anchor="end">0</text><text x="59.0" y="389.9" text-anchor="end">0.2</text></g>
<text x="219.0" y="377.2" text-anchor="middle" font-size="17.2" font-weight="bold" fill="#000">Y Component</text>
<text x="221.0" y="651.2" text-anchor="middle" font-size="17.5" fill="#222" stroke="#222" stroke-width="0.25">Time (s)</text>
<text x="24.9" y="495.7" text-anchor="middle" font-size="17.5" fill="#222" stroke="#222" stroke-width="0.25" transform="rotate(-90 24.9 495.7)">Unit Quaternion</text>
<path d="M531.9 383.2V608.2M593.3 383.2V608.2M654.7 383.2V608.2M716.1 383.2V608.2M777.5 383.2V608.2M470.5 608.2H777.5M470.5 552.0H777.5M470.5 495.7H777.5M470.5 439.5H777.5M470.5 383.2H777.5" stroke="#eeeeee" stroke-width="1" fill="none"/>
<g clip-path="url(#cZ)">
<path d="M470.5 422.2L471.0 464.9L471.5 441.6L472.0 415.9L472.5 447.6L473.1 476.5L473.6 367.5L474.1 481.9L474.6 416.5L475.1 468.9L475.6 419.8L476.1 420.8L476.6 448.0L477.2 490.2L477.7 397.5L478.2 456.8L478.7 407.4L479.2 495.8L479.7 441.7L480.2 443.9L480.7 423.8L481.2 432.0L481.8 447.3L482.3 451.0L482.8 479.1L483.3 406.8L483.8 457.3L484.3 430.2L484.8 438.4L485.3 452.5L485.9 428.5L486.4 430.6L486.9 478.0L487.4 407.4L487.9 438.7L488.4 418.9L488.9 466.6L489.4 437.8L489.9 420.0L490.5 434.7L491.0 464.2L491.5 443.9L492.0 463.7L492.5 436.0L493.0 438.7L493.5 426.0L494.0 418.9L494.5 497.2L495.1 438.3L495.6 433.4L496.1 418.4L496.6 444.6L497.1 449.8L497.6 458.0L498.1 448.8L498.6 413.5L499.2 465.2L499.7 442.8L500.2 453.0L500.7 433.8L501.2 440.5L501.7 470.1L502.2 433.1L502.7 460.2L503.2 427.4L503.8 444.7L504.3 447.3L504.8 452.5L505.3 420.4L505.8 455.3L506.3 459.3L506.8 422.3L507.3 488.2L507.9 410.6L508.4 450.4L508.9 427.6L509.4 445.9L509.9 466.5L510.4 490.5L510.9 422.0L511.4 441.7L511.9 418.2L512.5 451.0L513.0 444.3L513.5 458.1L514.0 418.9L514.5 456.6L515.0 457.7L515.5 483.7L516.0 414.1L516.5 475.7L517.1 447.5L517.6 435.4L518.1 441.2L518.6 479.9L519.1 451.3L519.6 470.6L520.1 462.5L520.6 404.4L521.2 482.8L521.7 438.1L522.2 450.8L522.7 474.6L523.2 439.0L523.7 483.5L524.2 407.8L524.7 455.2L525.2 451.4L525.8 492.5L526.3 450.4L526.8 436.7L527.3 433.5L527.8 493.0L528.3 445.1L528.8 440.7L529.3 424.9L529.9 507.4L530.4 444.2L530.9 441.2L531.4 447.4L531.9 466.5L532.4 461.6L532.9 429.2L533.4 496.1L533.9 408.4L534.5 494.4L535.0 450.4L535.5 471.9L536.0 455.2L536.5 411.0L537.0 485.7L537.5 457.1L538.0 485.8L538.6 441.6L539.1 460.4L539.6 462.2L540.1 447.3L540.6 475.9L541.1 483.2L541.6 433.8L542.1 470.7L542.6 446.2L543.2 455.9L543.7 480.5L544.2 499.1L544.7 406.8L545.2 463.5L545.7 442.3L546.2 482.2L546.7 443.1L547.2 453.2L547.8 556.2L548.3 412.5L548.8 510.6L549.3 509.3L549.8 421.0L550.3 482.1L550.8 481.7L551.3 440.9L551.9 505.1L552.4 465.4L552.9 453.3L553.4 469.6L553.9 451.4L554.4 445.3L554.9 552.3L555.4 450.2L555.9 496.0L556.5 464.4L557.0 484.5L557.5 479.8L558.0 477.9L558.5 483.4L559.0 485.6L559.5 444.3L560.0 517.4L560.6 454.6L561.1 487.0L561.6 452.0L562.1 486.4L562.6 476.7L563.1 467.0L563.6 528.4L564.1 485.8L564.6 510.6L565.2 469.3L565.7 478.8L566.2 487.5L566.7 496.0L567.2 436.6L567.7 502.7L568.2 463.8L568.7 538.1L569.3 454.0L569.8 485.4L570.3 490.7L570.8 496.6L571.3 486.9L571.8 509.6L572.3 445.7L572.8 491.8L573.3 507.7L573.9 487.0L574.4 479.8L574.9 503.9L575.4 473.9L575.9 497.5L576.4 502.5L576.9 512.3L577.4 453.2L578.0 517.7L578.5 479.7L579.0 472.7L579.5 486.5L580.0 501.4L580.5 524.7L581.0 461.1L581.5 495.1L582.0 525.7L582.6 483.3L583.1 494.3L583.6 508.7L584.1 494.9L584.6 481.0L585.1 515.1L585.6 459.8L586.1 530.5L586.6 501.3L587.2 478.5L587.7 512.8L588.2 499.3L588.7 472.7L589.2 480.5L589.7 514.8L590.2 493.4L590.7 510.4L591.3 492.4L591.8 488.4L592.3 529.4L592.8 490.9L593.3 523.9L593.8 486.8L594.3 502.7L594.8 521.7L595.3 480.8L595.9 491.2L596.4 496.5L596.9 528.6L597.4 478.9L597.9 538.3L598.4 498.9L598.9 516.9L599.4 475.1L600.0 533.2L600.5 486.3L601.0 523.5L601.5 501.0L602.0 526.7L602.5 495.3L603.0 509.5L603.5 515.6L604.0 500.7L604.6 497.5L605.1 489.1L605.6 507.1L606.1 534.0L606.6 486.7L607.1 515.9L607.6 479.0L608.1 533.9L608.6 493.3L609.2 484.0L609.7 484.9L610.2 577.8L610.7 525.9L611.2 471.9L611.7 467.5L612.2 554.2L612.7 480.0L613.3 505.0L613.8 545.7L614.3 447.5L614.8 513.5L615.3 535.2L615.8 477.5L616.3 518.2L616.8 525.0L617.3 475.0L617.9 539.9L618.4 482.5L618.9 540.3L619.4 491.0L619.9 494.6L620.4 531.4L620.9 484.8L621.4 507.5L622.0 512.6L622.5 475.8L623.0 538.6L623.5 511.4L624.0 494.0L624.5 529.4L625.0 506.3L625.5 436.3L626.0 571.6L626.6 434.2L627.1 540.8L627.6 497.0L628.1 526.9L628.6 495.6L629.1 521.6L629.6 502.4L630.1 501.4L630.7 505.3L631.2 452.2L631.7 545.4L632.2 509.0L632.7 520.1L633.2 481.9L633.7 512.8L634.2 517.6L634.7 464.4L635.3 530.3L635.8 533.1L636.3 489.1L636.8 473.4L637.3 496.3L637.8 539.4L638.3 483.7L638.8 568.5L639.4 466.7L639.9 524.5L640.4 503.5L640.9 482.7L641.4 508.7L641.9 483.3L642.4 534.0L642.9 475.9L643.4 542.2L644.0 463.4L644.5 496.0L645.0 518.7L645.5 499.9L646.0 505.9L646.5 521.6L647.0 509.6L647.5 510.4L648.0 493.4L648.6 517.8L649.1 501.9L649.6 513.3L650.1 501.8L650.6 506.8L651.1 502.7L651.6 488.6L652.1 573.6L652.7 446.6L653.2 539.3L653.7 522.0L654.2 493.4L654.7 520.0L655.2 500.3L655.7 494.7L656.2 497.4L656.7 536.0L657.3 465.1L657.8 516.8L658.3 509.7L658.8 519.3L659.3 492.4L659.8 494.3L660.3 550.3L660.8 505.6L661.4 517.9L661.9 530.4L662.4 505.8L662.9 517.2L663.4 530.3L663.9 490.6L664.4 511.0L664.9 500.7L665.4 493.5L666.0 517.4L666.5 533.1L667.0 526.1L667.5 482.6L668.0 538.3L668.5 492.8L669.0 511.8L669.5 496.5L670.0 531.3L670.6 496.8L671.1 551.0L671.6 460.3L672.1 539.2L672.6 531.0L673.1 469.5L673.6 539.2L674.1 521.6L674.7 534.0L675.2 489.7L675.7 508.9L676.2 539.5L676.7 514.6L677.2 544.7L677.7 454.7L678.2 534.2L678.7 504.5L679.3 544.8L679.8 494.5L680.3 509.1L680.8 519.5L681.3 516.7L681.8 534.1L682.3 526.0L682.8 490.8L683.4 512.5L683.9 529.7L684.4 539.9L684.9 530.9L685.4 499.7L685.9 501.8L686.4 538.0L686.9 527.1L687.4 481.7L688.0 528.3L688.5 507.2L689.0 544.7L689.5 556.8L690.0 520.7L690.5 484.0L691.0 532.6L691.5 484.8L692.1 553.0L692.6 488.7L693.1 527.9L693.6 505.0L694.1 544.3L694.6 505.5L695.1 538.9L695.6 523.4L696.1 515.7L696.7 475.9L697.2 564.5L697.7 518.5L698.2 504.2L698.7 551.3L699.2 501.1L699.7 566.4L700.2 450.6L700.8 539.6L701.3 506.3L701.8 518.8L702.3 519.5L702.8 530.4L703.3 496.7L703.8 509.9L704.3 543.1L704.8 497.8L705.4 555.3L705.9 524.4L706.4 506.0L706.9 513.7L707.4 560.2L707.9 495.5L708.4 532.8L708.9 535.8L709.4 509.1L710.0 499.3L710.5 544.2L711.0 511.5L711.5 505.4L712.0 502.8L712.5 539.5L713.0 496.6L713.5 590.5L714.1 465.0L714.6 525.0L715.1 533.9L715.6 498.7L716.1 528.9L716.6 540.8L717.1 502.5L717.6 462.3L718.1 557.5L718.7 507.0L719.2 572.8L719.7 493.5L720.2 476.6L720.7 535.9L721.2 504.0L721.7 516.5L722.2 556.6L722.8 476.2L723.3 535.1L723.8 537.4L724.3 497.5L724.8 489.2L725.3 546.8L725.8 512.8L726.3 505.1L726.8 516.7L727.4 525.9L727.9 512.6L728.4 498.8L728.9 516.7L729.4 499.9L729.9 515.1L730.4 515.4L730.9 515.5L731.5 535.2L732.0 499.1L732.5 539.1L733.0 495.8L733.5 516.2L734.0 533.7L734.5 476.0L735.0 520.0L735.5 506.1L736.1 520.3L736.6 537.6L737.1 476.0L737.6 556.5L738.1 463.6L738.6 497.3L739.1 551.9L739.6 485.5L740.1 519.3L740.7 515.6L741.2 483.2L741.7 519.6L742.2 511.3L742.7 485.2L743.2 503.4L743.7 532.8L744.2 509.9L744.8 513.8L745.3 512.7L745.8 491.9L746.3 509.7L746.8 496.6L747.3 531.8L747.8 487.2L748.3 526.0L748.8 509.9L749.4 479.3L749.9 505.7L750.4 531.8L750.9 495.7L751.4 503.9L751.9 513.3L752.4 458.0L752.9 514.4L753.5 490.3L754.0 535.1L754.5 496.4L755.0 473.3L755.5 530.1L756.0 478.1L756.5 503.7L757.0 524.0L757.5 507.2L758.1 498.5L758.6 519.4L759.1 471.2L759.6 529.5L760.1 461.9L760.6 511.1L761.1 499.6L761.6 492.0L762.1 470.5L762.7 525.1L763.2 510.2L763.7 486.8L764.2 513.0L764.7 513.7L765.2 452.6L765.7 508.0L766.2 480.1L766.8 544.8L767.3 457.4L767.8 499.4L768.3 482.2L768.8 481.9L769.3 540.5L769.8 498.6L770.3 489.4L770.8 484.6L771.4 524.6L771.9 482.8L772.4 507.8L772.9 478.0L773.4 495.3L773.9 490.6L774.4 499.3L774.9 508.2L775.5 515.9L776.0 484.8L776.5 467.5L777.0 529.3L777.5 469.6" fill="none" stroke="#b4b4b4" stroke-width="0.7"/>
<path d="M470.5 441.6L470.9 442.5L471.3 444.1L471.7 445.4L472.0 445.5L472.4 444.7L472.8 443.8L473.2 443.9L473.6 445.4L474.0 447.6L474.3 449.2L474.7 448.9L475.1 446.9L475.5 444.2L475.9 442.1L476.3 441.2L476.6 441.5L477.0 442.7L477.4 444.0L477.8 444.6L478.2 443.6L478.6 441.2L478.9 438.0L479.3 435.4L479.7 433.8L480.1 433.4L480.5 433.9L480.9 435.1L481.2 436.9L481.6 439.0L482.0 440.9L482.4 442.1L482.8 442.1L483.2 441.1L483.5 439.5L483.9 438.1L484.3 436.9L484.7 436.1L485.1 435.4L485.5 434.8L485.9 434.2L486.2 433.9L486.6 433.8L487.0 433.8L487.4 433.8L487.8 434.1L488.2 435.1L488.5 436.8L488.9 439.0L489.3 440.6L489.7 441.1L490.1 440.5L490.5 439.6L490.8 439.1L491.2 439.2L491.6 439.7L492.0 440.6L492.4 441.9L492.8 443.1L493.1 443.5L493.5 442.5L493.9 440.4L494.3 438.5L494.7 437.9L495.1 438.6L495.4 439.8L495.8 440.8L496.2 441.1L496.6 440.5L497.0 438.8L497.4 436.7L497.7 434.7L498.1 433.8L498.5 434.0L498.9 434.9L499.3 435.9L499.7 437.0L500.0 438.2L500.4 439.5L500.8 440.1L501.2 439.8L501.6 438.5L502.0 437.2L502.4 436.5L502.7 436.4L503.1 436.7L503.5 437.1L503.9 437.5L504.3 437.9L504.7 438.3L505.0 438.4L505.4 438.3L505.8 438.7L506.2 439.8L506.6 441.4L507.0 443.0L507.3 443.7L507.7 443.4L508.1 442.3L508.5 441.4L508.9 441.1L509.3 441.4L509.6 442.2L510.0 442.9L510.4 443.1L510.8 442.8L511.2 442.0L511.6 441.5L511.9 441.9L512.3 443.2L512.7 445.2L513.1 447.4L513.5 449.6L513.9 451.7L514.2 453.4L514.6 454.4L515.0 454.8L515.4 454.7L515.8 454.6L516.2 454.7L516.5 455.0L516.9 455.5L517.3 455.9L517.7 456.2L518.1 456.7L518.5 457.8L518.9 459.4L519.2 461.4L519.6 462.9L520.0 463.2L520.4 461.8L520.8 459.0L521.2 455.3L521.5 451.5L521.9 448.4L522.3 446.8L522.7 447.1L523.1 449.0L523.5 451.6L523.8 454.0L524.2 455.6L524.6 456.6L525.0 457.3L525.4 458.1L525.8 458.7L526.1 459.0L526.5 458.7L526.9 457.5L527.3 455.8L527.7 453.9L528.1 452.3L528.4 451.9L528.8 452.8L529.2 454.7L529.6 457.0L530.0 459.0L530.4 460.1L530.7 460.0L531.1 459.1L531.5 458.0L531.9 457.4L532.3 457.5L532.7 458.1L533.1 458.4L533.4 458.3L533.8 458.1L534.2 458.6L534.6 460.2L535.0 462.5L535.4 464.8L535.7 466.1L536.1 466.3L536.5 466.0L536.9 465.8L537.3 466.0L537.7 466.4L538.0 466.5L538.4 465.5L538.8 463.2L539.2 460.0L539.6 456.4L540.0 453.5L540.3 451.9L540.7 451.9L541.1 453.4L541.5 455.7L541.9 458.3L542.3 460.1L542.6 460.3L543.0 458.8L543.4 456.6L543.8 455.1L544.2 455.2L544.6 456.9L544.9 459.5L545.3 462.0L545.7 464.0L546.1 465.5L546.5 466.4L546.9 466.4L547.2 465.4L547.6 463.6L548.0 462.0L548.4 461.5L548.8 462.3L549.2 463.5L549.6 464.3L549.9 464.1L550.3 462.8L550.7 461.0L551.1 459.3L551.5 458.5L551.9 458.5L552.2 459.3L552.6 460.4L553.0 461.5L553.4 462.0L553.8 461.7L554.2 460.4L554.5 458.4L554.9 456.8L555.3 456.4L555.7 457.1L556.1 458.3L556.5 459.4L556.8 460.2L557.2 461.3L557.6 462.9L558.0 464.5L558.4 465.8L558.8 466.6L559.1 467.1L559.5 467.3L559.9 467.1L560.3 466.6L560.7 466.6L560.8 460.8L624.0 460.8L624.0 511.3L624.0 511.3L624.4 510.7L624.8 509.4L625.2 507.9L625.5 506.7L625.9 506.2L626.3 506.3L626.7 506.1L627.1 505.1L627.5 503.5L627.8 502.1L628.2 501.9L628.6 503.5L629.0 506.5L629.4 510.1L629.8 513.2L630.1 515.1L630.5 515.6L630.9 514.8L631.3 513.2L631.7 511.5L632.1 510.5L632.4 510.2L632.8 510.2L633.2 510.6L633.6 511.3L634.0 512.5L634.4 513.9L634.7 515.1L635.1 516.3L635.5 517.3L635.9 518.2L636.3 518.5L636.7 517.7L637.0 515.9L637.4 513.5L637.8 511.0L638.2 509.1L638.6 508.5L639.0 509.2L639.4 510.4L639.7 511.5L640.1 511.8L640.5 511.0L640.9 509.0L641.3 506.3L641.7 503.7L642.0 502.5L642.4 503.2L642.8 505.3L643.2 507.8L643.6 509.4L644.0 509.8L644.3 509.4L644.7 508.9L645.1 509.1L645.5 510.0L645.9 511.4L646.3 512.9L646.6 513.9L647.0 514.1L647.4 513.4L647.8 512.4L648.2 511.8L648.6 511.9L648.9 512.8L649.3 514.0L649.7 514.7L650.1 514.6L650.5 513.4L650.9 511.4L651.2 508.8L651.6 506.2L652.0 503.9L652.4 501.8L652.8 499.9L653.2 498.7L653.5 499.2L653.9 502.0L654.3 507.0L654.7 512.7L655.1 517.4L655.5 519.7L655.9 519.7L656.2 518.3L656.6 516.7L657.0 515.4L657.4 514.7L657.8 514.5L658.2 514.6L658.5 514.9L658.9 515.2L659.3 515.5L659.7 515.9L660.1 516.6L660.5 517.3L660.8 517.7L661.2 518.0L661.6 518.4L662.0 519.4L662.4 521.1L662.8 522.7L663.1 523.3L663.5 522.6L663.9 521.2L664.3 519.9L664.7 519.1L665.1 518.6L665.4 518.2L665.8 517.8L666.2 517.5L666.6 517.6L667.0 517.8L667.4 518.3L667.7 519.3L668.1 520.9L668.5 522.5L668.9 523.0L669.3 521.8L669.7 518.9L670.0 515.5L670.4 512.8L670.8 511.4L671.2 511.4L671.6 512.2L672.0 513.4L672.4 514.5L672.7 515.5L673.1 515.9L673.5 515.5L673.9 514.4L674.3 513.3L674.7 513.1L675.0 514.4L675.4 517.0L675.8 520.1L676.2 523.0L676.6 525.3L677.0 527.2L677.3 529.0L677.7 530.4L678.1 530.8L678.5 530.0L678.9 528.2L679.3 526.3L679.6 525.4L680.0 525.7L680.4 526.6L680.8 527.1L681.2 526.9L681.6 526.0L681.9 524.9L682.3 523.5L682.7 521.4L683.1 518.6L683.5 515.8L683.9 514.0L684.2 513.5L684.6 514.2L685.0 515.3L685.4 515.9L685.8 515.5L686.2 514.4L686.6 513.4L686.9 513.0L687.3 513.4L687.7 514.5L688.1 516.0L688.5 517.7L688.9 519.4L689.2 521.1L689.6 522.3L690.0 522.8L690.4 522.3L690.8 520.7L691.2 518.5L691.5 516.6L691.9 515.6L692.3 515.9L692.7 517.2L693.1 519.2L693.5 521.2L693.8 523.0L694.2 524.4L694.6 525.6L695.0 526.5L695.4 527.3L695.8 527.9L696.1 528.4L696.5 528.8L696.9 529.0L697.3 529.2L697.7 529.7L698.1 530.0L698.4 529.7L698.8 528.3L699.2 526.0L699.6 523.2L700.0 520.3L700.4 518.4L700.8 518.3L701.1 520.2L701.5 523.5L701.9 526.5L702.3 527.9L702.7 527.5L703.1 526.0L703.4 524.2L703.8 522.6L704.2 521.3L704.6 520.7L705.0 520.7L705.4 521.1L705.7 521.9L706.1 522.6L706.5 522.8L706.9 522.1L707.3 520.6L707.7 519.2L708.0 518.8L708.4 519.9L708.8 521.8L709.2 523.7L709.6 524.7L710.0 524.9L710.3 524.6L710.7 524.5L711.1 525.1L711.5 526.0L711.9 526.6L712.3 526.3L712.6 524.9L713.0 523.0L713.4 521.2L713.8 519.9L714.2 519.3L714.6 519.4L714.9 520.0L715.3 521.2L715.7 522.6L716.1 523.6L716.5 523.7L716.9 523.2L717.3 522.6L717.6 522.4L718.0 522.8L718.4 523.4L718.8 523.6L719.2 522.6L719.6 520.4L719.9 517.4L720.3 514.5L720.7 512.7L721.1 512.6L721.5 514.1L721.9 516.6L722.2 519.5L722.6 522.1L723.0 523.9L723.4 524.5L723.8 523.9L724.2 522.5L724.5 521.1L724.9 520.5L725.3 521.4L725.7 523.8L726.1 526.5L726.5 528.2L726.8 527.6L727.2 524.6L727.6 520.7L728.0 517.2L728.4 514.9L728.8 513.7L729.1 513.0L729.5 512.0L729.9 510.6L730.3 509.4L730.7 508.9L731.1 509.7L731.5 511.7L731.8 514.4L732.2 517.3L732.6 519.8L733.0 521.5L733.4 522.3L733.8 522.5L734.1 522.1L734.5 521.2L734.9 519.9L735.3 518.5L735.7 517.3L736.1 516.4L736.4 515.6L736.8 515.0L737.2 514.5L737.6 514.8L738.0 516.1L738.4 518.3L738.7 520.5L739.1 521.6L739.5 521.1L739.9 519.1L740.3 516.5L740.7 514.5L741.0 513.8L741.4 514.3L741.8 515.2L742.2 515.8L742.6 515.5L743.0 514.3L743.3 513.0L743.7 512.4L744.1 513.2L744.5 515.3L744.9 517.8L745.3 519.7L745.6 520.4L746.0 520.5L746.4 520.3L746.8 520.1L747.2 519.4L747.6 517.7L748.0 515.1L748.3 512.3L748.7 509.9L749.1 508.1L749.5 507.2L749.9 507.5L750.3 509.0L750.6 511.6L751.0 514.9L751.4 517.9L751.8 519.9L752.2 520.1L752.6 518.4L752.9 515.6L753.3 513.2L753.7 511.9L754.1 511.6L754.5 511.4L754.9 510.4L755.2 508.7L755.6 506.6L756.0 504.7L756.4 503.1L756.8 501.8L757.2 500.6L757.5 499.3L757.9 497.8L758.3 496.1L758.7 494.1L759.1 492.2L759.5 490.9L759.8 490.7L760.2 491.6L760.6 493.2L761.0 494.7L761.4 495.3L761.8 494.8L762.1 493.6L762.5 492.8L762.9 493.2L763.3 494.9L763.7 497.2L764.1 499.2L764.5 500.6L764.8 501.8L765.2 503.3L765.6 505.2L766.0 507.4L766.4 509.1L766.8 510.2L767.1 510.5L767.5 510.2L767.9 509.3L768.3 507.8L768.7 505.6L769.1 502.7L769.4 499.5L769.8 496.5L770.2 493.9L770.6 492.0L771.0 490.9L771.4 490.8L771.7 491.8L772.1 493.6L772.5 495.5L772.9 497.2L773.3 498.6L773.7 499.8L774.0 500.7L774.4 501.3L774.8 501.6L775.2 501.4L775.6 500.1L776.0 497.5L776.3 493.7L776.7 489.8L777.1 486.9L777.5 485.5" fill="none" stroke="#3567a6" stroke-width="1.7" stroke-linejoin="round"/>
<path d="M470.5 438.9L470.9 439.8L471.3 441.4L471.7 442.6L472.0 442.6L472.4 441.7L472.8 440.7L473.2 440.7L473.6 442.1L474.0 444.3L474.3 445.9L474.7 445.7L475.1 443.7L475.5 441.2L475.9 439.4L476.3 438.9L476.6 439.6L477.0 441.2L477.4 443.0L477.8 444.2L478.2 443.7L478.6 441.8L478.9 439.2L479.3 437.1L479.7 436.1L480.1 436.2L480.5 437.2L480.9 438.9L481.2 441.1L481.6 443.6L482.0 445.8L482.4 447.1L482.8 447.2L483.2 446.2L483.5 444.5L483.9 442.8L484.3 441.4L484.7 440.2L485.1 439.1L485.5 437.9L485.9 436.9L486.2 436.0L486.6 435.4L487.0 434.9L487.4 434.6L487.8 434.5L488.2 435.0L488.5 436.5L488.9 438.4L489.3 439.9L489.7 440.1L490.1 439.4L490.5 438.4L490.8 437.8L491.2 437.9L491.6 438.5L492.0 439.4L492.4 440.8L492.8 442.2L493.1 442.8L493.5 442.0L493.9 440.1L494.3 438.5L494.7 438.2L495.1 439.2L495.4 440.7L495.8 441.9L496.2 442.4L496.6 442.0L497.0 440.5L497.4 438.5L497.7 436.7L498.1 435.8L498.5 436.2L498.9 437.1L499.3 438.2L499.7 439.3L500.0 440.5L500.4 441.7L500.8 442.3L501.2 441.8L501.6 440.4L502.0 438.9L502.4 437.9L502.7 437.5L503.1 437.5L503.5 437.5L503.9 437.5L504.3 437.7L504.7 437.8L505.0 437.6L505.4 437.4L505.8 437.6L506.2 438.6L506.6 440.2L507.0 441.8L507.3 442.6L507.7 442.4L508.1 441.6L508.5 440.8L508.9 440.7L509.3 441.2L509.6 442.1L510.0 442.9L510.4 443.2L510.8 442.7L511.2 441.9L511.6 441.2L511.9 441.3L512.3 442.4L512.7 443.9L513.1 445.8L513.5 447.6L513.9 449.2L514.2 450.5L514.6 451.2L515.0 451.4L515.4 451.2L515.8 451.0L516.2 451.2L516.5 451.8L516.9 452.6L517.3 453.3L517.7 454.1L518.1 455.1L518.5 456.5L518.9 458.6L519.2 460.9L519.6 462.6L520.0 463.0L520.4 461.6L520.8 458.7L521.2 454.7L521.5 450.5L521.9 447.0L522.3 444.9L522.7 444.8L523.1 446.3L523.5 448.5L523.8 450.6L524.2 452.1L524.6 453.0L525.0 453.8L525.4 454.7L525.8 455.6L526.1 456.2L526.5 456.2L526.9 455.4L527.3 453.9L527.7 452.3L528.1 451.0L528.4 450.7L528.8 451.7L529.2 453.7L529.6 456.0L530.0 457.9L530.4 458.9L530.7 458.8L531.1 457.8L531.5 456.5L531.9 455.8L532.3 455.8L532.7 456.3L533.1 456.6L533.4 456.4L533.8 456.1L534.2 456.4L534.6 457.9L535.0 460.2L535.4 462.3L535.7 463.5L536.1 463.6L536.5 463.1L536.9 462.7L537.3 462.7L537.7 463.0L538.0 462.9L538.4 461.8L538.8 459.5L539.2 456.2L539.6 452.6L540.0 449.7L540.3 448.3L540.7 448.5L541.1 450.1L541.5 452.7L541.9 455.5L542.3 457.5L542.6 457.9L543.0 456.6L543.4 454.5L543.8 453.0L544.2 452.9L544.6 454.5L544.9 456.8L545.3 459.0L545.7 460.7L546.1 461.9L546.5 462.5L546.9 462.4L547.2 461.3L547.6 459.5L548.0 458.0L548.4 457.7L548.8 458.8L549.2 460.5L549.6 461.8L549.9 462.0L550.3 461.3L550.7 459.9L551.1 458.8L551.5 458.4L551.9 458.9L552.2 460.1L552.6 461.6L553.0 463.0L553.4 463.9L553.8 463.7L554.2 462.6L554.5 460.8L554.9 459.2L555.3 458.8L555.7 459.5L556.1 460.6L556.5 461.6L556.8 462.3L557.2 463.3L557.6 464.6L558.0 466.1L558.4 467.2L558.8 467.8L559.1 468.0L559.5 467.9L559.9 467.4L560.3 466.6L560.7 466.2L561.1 461.0L561.4 461.3L561.8 461.5L562.2 461.8L562.6 462.0L563.0 462.3L563.4 462.5L563.8 462.8L564.1 463.0L564.5 463.3L564.9 463.5L565.3 463.8L565.7 464.0L566.1 464.3L566.4 464.5L566.8 464.8L567.2 465.0L567.6 465.3L568.0 465.5L568.4 465.8L568.7 466.0L569.1 466.3L569.5 466.5L569.9 466.8L570.3 467.1L570.7 467.3L571.0 467.6L571.4 467.8L571.8 468.1L572.2 468.3L572.6 468.6L573.0 468.9L573.3 469.1L573.7 469.4L574.1 469.6L574.5 469.9L574.9 470.1L575.3 470.4L575.6 470.7L576.0 470.9L576.4 471.2L576.8 471.4L577.2 471.7L577.6 472.0L578.0 472.2L578.3 472.5L578.7 472.8L579.1 473.0L579.5 473.3L579.9 473.6L580.3 473.9L580.6 474.2L581.0 474.4L581.4 474.7L581.8 475.0L582.2 475.3L582.6 475.6L582.9 475.9L583.3 476.2L583.7 476.5L584.1 476.8L584.5 477.1L584.9 477.4L585.2 477.7L585.6 478.1L586.0 478.4L586.4 478.7L586.8 479.0L587.2 479.4L587.5 479.7L587.9 480.1L588.3 480.5L588.7 480.8L589.1 481.2L589.5 481.6L589.8 482.1L590.2 482.5L590.6 482.9L591.0 483.4L591.4 483.8L591.8 484.2L592.1 484.7L592.5 485.1L592.9 485.6L593.3 486.0L593.7 486.5L594.1 486.9L594.5 487.3L594.8 487.7L595.2 488.1L595.6 488.5L596.0 489.0L596.4 489.4L596.8 489.8L597.1 490.2L597.5 490.6L597.9 491.0L598.3 491.4L598.7 491.8L599.1 492.2L599.4 492.6L599.8 493.0L600.2 493.4L600.6 493.8L601.0 494.2L601.4 494.5L601.7 494.8L602.1 495.2L602.5 495.5L602.9 495.8L603.3 496.0L603.7 496.3L604.0 496.5L604.4 496.8L604.8 497.0L605.2 497.2L605.6 497.4L606.0 497.6L606.3 497.9L606.7 498.1L607.1 498.3L607.5 498.5L607.9 498.7L608.3 498.9L608.6 499.1L609.0 499.3L609.4 499.5L609.8 499.8L610.2 500.0L610.6 500.3L611.0 500.5L611.3 500.8L611.7 501.1L612.1 501.5L612.5 501.8L612.9 502.1L613.3 502.5L613.6 502.8L614.0 503.2L614.4 503.5L614.8 503.8L615.2 504.0L615.6 504.3L615.9 504.5L616.3 504.7L616.7 504.9L617.1 505.0L617.5 505.2L617.9 505.4L618.2 505.5L618.6 505.7L619.0 505.8L619.4 506.0L619.8 506.1L620.2 506.2L620.5 506.3L620.9 506.5L621.3 506.6L621.7 506.6L622.1 506.7L622.5 506.8L622.8 506.9L623.2 506.9L623.6 506.9L624.0 512.0L624.4 511.5L624.8 510.3L625.2 508.8L625.5 507.7L625.9 507.3L626.3 507.4L626.7 507.2L627.1 506.3L627.5 504.6L627.8 503.2L628.2 503.0L628.6 504.6L629.0 507.7L629.4 511.3L629.8 514.5L630.1 516.6L630.5 517.3L630.9 516.7L631.3 515.3L631.7 513.8L632.1 513.0L632.4 512.7L632.8 512.8L633.2 513.2L633.6 513.9L634.0 514.9L634.4 516.1L634.7 517.2L635.1 518.2L635.5 519.1L635.9 519.8L636.3 519.9L636.7 519.0L637.0 517.1L637.4 514.6L637.8 512.0L638.2 510.1L638.6 509.5L639.0 510.0L639.4 511.2L639.7 512.2L640.1 512.4L640.5 511.4L640.9 509.2L641.3 506.2L641.7 503.4L642.0 501.9L642.4 502.2L642.8 504.0L643.2 506.1L643.6 507.4L644.0 507.6L644.3 507.0L644.7 506.4L645.1 506.5L645.5 507.4L645.9 508.9L646.3 510.5L646.6 511.7L647.0 512.0L647.4 511.6L647.8 510.9L648.2 510.4L648.6 510.8L648.9 511.9L649.3 513.1L649.7 513.9L650.1 513.8L650.5 512.6L650.9 510.5L651.2 507.8L651.6 505.0L652.0 502.6L652.4 500.3L652.8 498.2L653.2 497.0L653.5 497.4L653.9 500.3L654.3 505.3L654.7 511.1L655.1 515.9L655.5 518.3L655.9 518.4L656.2 517.1L656.6 515.5L657.0 514.2L657.4 513.5L657.8 513.1L658.2 513.1L658.5 513.3L658.9 513.4L659.3 513.5L659.7 513.6L660.1 514.0L660.5 514.4L660.8 514.6L661.2 514.6L661.6 514.8L662.0 515.7L662.4 517.2L662.8 518.8L663.1 519.4L663.5 518.7L663.9 517.4L664.3 516.3L664.7 515.7L665.1 515.4L665.4 515.2L665.8 515.0L666.2 515.0L666.6 515.2L667.0 515.7L667.4 516.5L667.7 517.8L668.1 519.6L668.5 521.5L668.9 522.5L669.3 521.7L669.7 519.2L670.0 516.1L670.4 513.8L670.8 512.8L671.2 513.0L671.6 514.0L672.0 515.3L672.4 516.5L672.7 517.5L673.1 517.8L673.5 517.2L673.9 516.0L674.3 514.8L674.7 514.4L675.0 515.5L675.4 517.8L675.8 520.7L676.2 523.4L676.6 525.5L677.0 527.1L677.3 528.6L677.7 529.7L678.1 530.0L678.5 528.9L678.9 526.9L679.3 524.9L679.6 523.8L680.0 524.1L680.4 525.0L680.8 525.5L681.2 525.3L681.6 524.5L681.9 523.6L682.3 522.3L682.7 520.4L683.1 517.8L683.5 515.2L683.9 513.6L684.2 513.4L684.6 514.3L685.0 515.6L685.4 516.4L685.8 516.1L686.2 515.3L686.6 514.4L686.9 514.1L687.3 514.5L687.7 515.7L688.1 517.2L688.5 519.0L688.9 520.8L689.2 522.5L689.6 523.7L690.0 524.3L690.4 523.7L690.8 522.1L691.2 519.9L691.5 517.9L691.9 516.9L692.3 517.0L692.7 518.2L693.1 520.0L693.5 522.0L693.8 523.6L694.2 524.9L694.6 525.9L695.0 526.8L695.4 527.4L695.8 527.9L696.1 528.3L696.5 528.5L696.9 528.6L697.3 528.7L697.7 529.0L698.1 529.2L698.4 528.9L698.8 527.5L699.2 525.2L699.6 522.3L700.0 519.5L700.4 517.6L700.8 517.6L701.1 519.6L701.5 522.9L701.9 525.9L702.3 527.3L702.7 526.8L703.1 525.2L703.4 523.2L703.8 521.4L704.2 520.0L704.6 519.1L705.0 518.8L705.4 519.0L705.7 519.6L706.1 520.2L706.5 520.2L706.9 519.4L707.3 517.8L707.7 516.4L708.0 516.1L708.4 517.2L708.8 519.3L709.2 521.3L709.6 522.6L710.0 523.0L710.3 522.9L710.7 523.1L711.1 523.8L711.5 524.9L711.9 525.6L712.3 525.4L712.6 524.1L713.0 522.2L713.4 520.3L713.8 518.9L714.2 518.3L714.6 518.3L714.9 518.9L715.3 520.1L715.7 521.4L716.1 522.5L716.5 522.7L716.9 522.2L717.3 521.7L717.6 521.7L718.0 522.3L718.4 523.1L718.8 523.5L719.2 522.8L719.6 520.8L719.9 518.0L720.3 515.3L720.7 513.7L721.1 513.9L721.5 515.5L721.9 518.2L722.2 521.2L722.6 523.9L723.0 525.8L723.4 526.5L723.8 525.9L724.2 524.6L724.5 523.3L724.9 522.8L725.3 523.8L725.7 526.1L726.1 528.9L726.5 530.6L726.8 529.9L727.2 527.0L727.6 522.9L728.0 519.2L728.4 516.8L728.8 515.3L729.1 514.3L729.5 513.0L729.9 511.4L730.3 509.8L730.7 509.0L731.1 509.5L731.5 511.2L731.8 513.7L732.2 516.4L732.6 518.7L733.0 520.3L733.4 521.1L733.8 521.3L734.1 521.0L734.5 520.2L734.9 519.0L735.3 517.7L735.7 516.6L736.1 515.8L736.4 515.2L736.8 514.7L737.2 514.4L737.6 514.8L738.0 516.3L738.4 518.5L738.7 520.7L739.1 521.9L739.5 521.3L739.9 519.2L740.3 516.5L740.7 514.3L741.0 513.3L741.4 513.6L741.8 514.3L742.2 514.6L742.6 514.0L743.0 512.7L743.3 511.3L743.7 510.6L744.1 511.4L744.5 513.5L744.9 516.1L745.3 518.1L745.6 519.0L746.0 519.1L746.4 519.0L746.8 518.9L747.2 518.2L747.6 516.5L748.0 513.9L748.3 511.1L748.7 508.7L749.1 506.9L749.5 506.1L749.9 506.3L750.3 507.9L750.6 510.6L751.0 513.9L751.4 517.0L751.8 519.0L752.2 519.2L752.6 517.5L752.9 514.7L753.3 512.2L753.7 510.9L754.1 510.6L754.5 510.3L754.9 509.4L755.2 507.8L755.6 505.8L756.0 504.1L756.4 502.7L756.8 501.6L757.2 500.6L757.5 499.7L757.9 498.5L758.3 497.1L758.7 495.5L759.1 494.1L759.5 493.2L759.8 493.4L760.2 494.7L760.6 496.7L761.0 498.6L761.4 499.5L761.8 499.2L762.1 498.2L762.5 497.4L762.9 497.6L763.3 499.1L763.7 501.0L764.1 502.5L764.5 503.3L764.8 503.9L765.2 504.7L765.6 506.0L766.0 507.5L766.4 508.7L766.8 509.3L767.1 509.3L767.5 508.7L767.9 507.7L768.3 506.2L768.7 504.1L769.1 501.4L769.4 498.5L769.8 495.9L770.2 493.7L770.6 492.3L771.0 491.6L771.4 491.8L771.7 493.1L772.1 495.0L772.5 497.1L772.9 498.9L773.3 500.2L773.7 501.3L774.0 502.0L774.4 502.3L774.8 502.3L775.2 501.7L775.6 500.1L776.0 497.1L776.3 492.8L776.7 488.5L777.1 485.1L777.5 483.4" fill="none" stroke="#d4672a" stroke-width="2.6" stroke-linejoin="round"/>
<path d="M470.5 439.4L471.5 439.4L472.5 439.5L473.6 439.6L474.6 439.7L475.6 439.8L476.6 439.9L477.7 440.0L478.7 440.1L479.7 440.2L480.7 440.3L481.8 440.4L482.8 440.5L483.8 440.6L484.8 440.8L485.9 440.9L486.9 441.0L487.9 441.2L488.9 441.3L489.9 441.4L491.0 441.6L492.0 441.8L493.0 441.9L494.0 442.1L495.1 442.3L496.1 442.5L497.1 442.7L498.1 443.0L499.2 443.2L500.2 443.4L501.2 443.7L502.2 444.0L503.2 444.2L504.3 444.5L505.3 444.8L506.3 445.1L507.3 445.5L508.4 445.8L509.4 446.2L510.4 446.5L511.4 446.9L512.5 447.3L513.5 447.7L514.5 448.1L515.5 448.5L516.5 448.9L517.6 449.4L518.6 449.8L519.6 450.3L520.6 450.7L521.7 451.2L522.7 451.7L523.7 452.2L524.7 452.7L525.8 453.2L526.8 453.8L527.8 454.3L528.8 454.8L529.9 455.4L530.9 455.9L531.9 456.5L532.9 457.1L533.9 457.7L535.0 458.3L536.0 458.9L537.0 459.5L538.0 460.2L539.1 460.8L540.1 461.5L541.1 462.2L542.1 462.9L543.2 463.6L544.2 464.4L545.2 465.1L546.2 465.9L547.2 466.8L548.3 467.6L549.3 468.5L550.3 469.3L551.3 470.2L552.4 471.1L553.4 472.0L554.4 472.9L555.4 473.9L556.5 474.8L557.5 475.7L558.5 476.7L559.5 477.6L560.6 478.5L561.6 479.4L562.6 480.4L563.6 481.3L564.6 482.2L565.7 483.0L566.7 483.9L567.7 484.8L568.7 485.6L569.8 486.5L570.8 487.3L571.8 488.1L572.8 488.9L573.9 489.6L574.9 490.4L575.9 491.1L576.9 491.8L578.0 492.5L579.0 493.2L580.0 493.9L581.0 494.5L582.0 495.1L583.1 495.8L584.1 496.3L585.1 496.9L586.1 497.5L587.2 498.0L588.2 498.5L589.2 499.0L590.2 499.5L591.3 500.0L592.3 500.5L593.3 500.9L594.3 501.3L595.3 501.7L596.4 502.1L597.4 502.5L598.4 502.8L599.4 503.2L600.5 503.5L601.5 503.8L602.5 504.1L603.5 504.3L604.6 504.6L605.6 504.8L606.6 505.0L607.6 505.2L608.6 505.4L609.7 505.5L610.7 505.7L611.7 505.8L612.7 505.9L613.8 506.0L614.8 506.1L615.8 506.2L616.8 506.3L617.9 506.3L618.9 506.4L619.9 506.4L620.9 506.4L622.0 506.4L623.0 506.4L624.0 506.5L625.0 506.5L626.0 506.5L627.1 506.5L628.1 506.4L629.1 506.4L630.1 506.4L631.2 506.4L632.2 506.4L633.2 506.4L634.2 506.4L635.3 506.4L636.3 506.4L637.3 506.4L638.3 506.5L639.4 506.5L640.4 506.5L641.4 506.6L642.4 506.6L643.4 506.7L644.5 506.8L645.5 506.9L646.5 507.0L647.5 507.1L648.6 507.2L649.6 507.4L650.6 507.5L651.6 507.7L652.7 507.9L653.7 508.1L654.7 508.3L655.7 508.5L656.7 508.7L657.8 509.0L658.8 509.3L659.8 509.6L660.8 509.9L661.9 510.2L662.9 510.5L663.9 510.8L664.9 511.1L666.0 511.5L667.0 511.8L668.0 512.1L669.0 512.5L670.0 512.8L671.1 513.2L672.1 513.5L673.1 513.9L674.1 514.2L675.2 514.5L676.2 514.9L677.2 515.2L678.2 515.5L679.3 515.8L680.3 516.2L681.3 516.5L682.3 516.8L683.4 517.0L684.4 517.3L685.4 517.6L686.4 517.8L687.4 518.1L688.5 518.3L689.5 518.5L690.5 518.7L691.5 518.9L692.6 519.0L693.6 519.2L694.6 519.3L695.6 519.4L696.7 519.5L697.7 519.6L698.7 519.7L699.7 519.8L700.8 519.8L701.8 519.8L702.8 519.8L703.8 519.8L704.8 519.8L705.9 519.7L706.9 519.7L707.9 519.6L708.9 519.5L710.0 519.4L711.0 519.3L712.0 519.1L713.0 519.0L714.1 518.8L715.1 518.6L716.1 518.4L717.1 518.2L718.1 517.9L719.2 517.7L720.2 517.4L721.2 517.2L722.2 516.9L723.3 516.6L724.3 516.3L725.3 515.9L726.3 515.6L727.4 515.2L728.4 514.9L729.4 514.5L730.4 514.1L731.5 513.7L732.5 513.3L733.5 512.9L734.5 512.5L735.5 512.1L736.6 511.7L737.6 511.2L738.6 510.8L739.6 510.4L740.7 509.9L741.7 509.5L742.7 509.0L743.7 508.6L744.8 508.1L745.8 507.6L746.8 507.2L747.8 506.7L748.8 506.3L749.9 505.8L750.9 505.4L751.9 504.9L752.9 504.5L754.0 504.0L755.0 503.6L756.0 503.2L757.0 502.7L758.1 502.3L759.1 501.8L760.1 501.4L761.1 501.0L762.1 500.5L763.2 500.1L764.2 499.6L765.2 499.2L766.2 498.8L767.3 498.3L768.3 497.9L769.3 497.5L770.3 497.0L771.4 496.6L772.4 496.2L773.4 495.7L774.4 495.3L775.5 494.9L776.5 494.4L777.5 494.0" fill="none" stroke="#111" stroke-width="2.1" stroke-linejoin="round"/>
</g>
<path d="M470.5 383.2V608.2H777.5" fill="none" stroke="#4a4a4a" stroke-width="1"/>
<path d="M470.5 608.2v-3M531.9 608.2v-3M593.3 608.2v-3M654.7 608.2v-3M716.1 608.2v-3M777.5 608.2v-3M470.5 608.2h3M470.5 552.0h3M470.5 495.7h3M470.5 439.5h3M470.5 383.2h3" stroke="#4a4a4a" stroke-width="1"/>
<g font-size="15.6" fill="#222" stroke="#222" stroke-width="0.25"><text x="470.5" y="630.8" text-anchor="middle">0</text><text x="531.9" y="630.8" text-anchor="middle">2</text><text x="593.3" y="630.8" text-anchor="middle">4</text><text x="654.7" y="630.8" text-anchor="middle">6</text><text x="716.1" y="630.8" text-anchor="middle">8</text><text x="777.5" y="630.8" text-anchor="middle">10</text><text x="464.0" y="614.9" text-anchor="end">-0.3</text><text x="464.0" y="558.7" text-anchor="end">-0.2</text><text x="464.0" y="502.4" text-anchor="end">-0.1</text><text x="464.0" y="446.2" text-anchor="end">0</text><text x="464.0" y="389.9" text-anchor="end">0.1</text></g>
<text x="624.0" y="377.2" text-anchor="middle" font-size="17.2" font-weight="bold" fill="#000">Z Component</text>
<text x="626.0" y="651.2" text-anchor="middle" font-size="17.5" fill="#222" stroke="#222" stroke-width="0.25">Time (s)</text>
<text x="428.7" y="495.7" text-anchor="middle" font-size="17.5" fill="#222" stroke="#222" stroke-width="0.25" transform="rotate(-90 428.7 495.7)">Unit Quaternion</text>
<rect x="72.3" y="193.3" width="131.9" height="76.3" fill="#fff" stroke="#444" stroke-width="1"/>
<line x1="77.5" y1="204.3" x2="116.1" y2="204.3" stroke="#dddddd" stroke-width="1.2"/>
<text x="121" y="209.6" font-size="14" fill="#111" stroke="#111" stroke-width="0.2">Measured</text>
<line x1="77.5" y1="222.7" x2="116.1" y2="222.7" stroke="#3567a6" stroke-width="2.0"/>
<text x="121" y="228.0" font-size="14" fill="#111" stroke="#111" stroke-width="0.2">Without IMU</text>
<line x1="77.5" y1="239.8" x2="116.1" y2="239.8" stroke="#8c6040" stroke-width="2.6"/>
<text x="121" y="245.1" font-size="14" fill="#111" stroke="#111" stroke-width="0.2">With IMU</text>
<line x1="77.5" y1="258.5" x2="116.1" y2="258.5" stroke="#111" stroke-width="2.1"/>
<text x="121" y="263.8" font-size="14" fill="#111" stroke="#111" stroke-width="0.2">Actual</text>
</svg></body></html>
